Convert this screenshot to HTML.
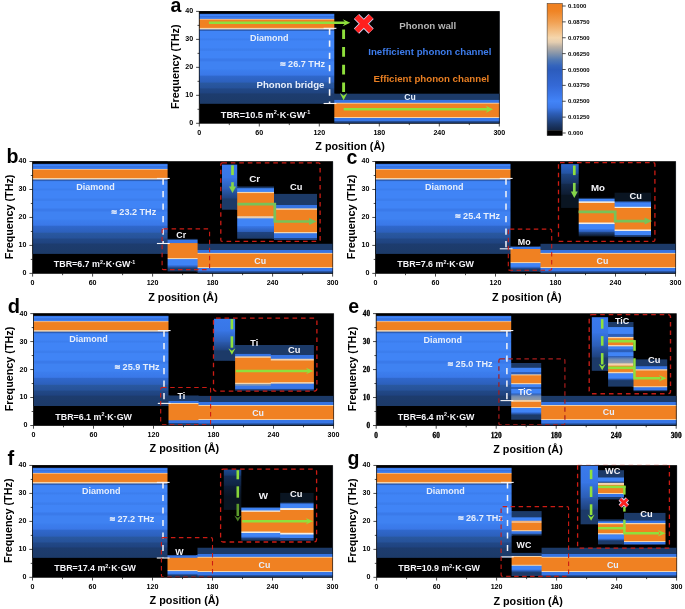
<!DOCTYPE html>
<html><head><meta charset="utf-8"><title>Phonon transport figure</title>
<style>
html,body{margin:0;padding:0;background:#fff;}
body{width:685px;height:609px;overflow:hidden;font-family:"Liberation Sans",sans-serif;}
svg{display:block;will-change:transform;}
text{white-space:pre;}
</style></head><body>
<svg width="685" height="609" viewBox="0 0 685 609">
<defs>
<linearGradient id="g0" gradientUnits="userSpaceOnUse" x1="0" y1="11.4" x2="0" y2="103.8"><stop offset="0.0000" stop-color="#000000"/><stop offset="0.0130" stop-color="#000000"/><stop offset="0.0238" stop-color="#0c1830"/><stop offset="0.0271" stop-color="#3470dc"/><stop offset="0.0379" stop-color="#4084f6"/><stop offset="0.0487" stop-color="#4084f6"/><stop offset="0.0584" stop-color="#3268d2"/><stop offset="0.0584" stop-color="#3268d2"/><stop offset="0.0682" stop-color="#3e80f2"/><stop offset="0.0758" stop-color="#3e80f2"/><stop offset="0.0866" stop-color="#f2b47c"/><stop offset="0.0866" stop-color="#f2b47c"/><stop offset="0.0974" stop-color="#f08122"/><stop offset="0.1732" stop-color="#f08122"/><stop offset="0.1840" stop-color="#f4d4ac"/><stop offset="0.1894" stop-color="#f4d4ac"/><stop offset="0.2002" stop-color="#2c5eb8"/><stop offset="0.2067" stop-color="#2c5eb8"/><stop offset="0.2175" stop-color="#4084f6"/><stop offset="0.2868" stop-color="#4084f6"/><stop offset="0.2976" stop-color="#3c7eee"/><stop offset="0.3084" stop-color="#3c7eee"/><stop offset="0.3193" stop-color="#4084f6"/><stop offset="0.3950" stop-color="#4084f6"/><stop offset="0.4058" stop-color="#3c7eee"/><stop offset="0.4221" stop-color="#3c7eee"/><stop offset="0.4329" stop-color="#4084f6"/><stop offset="0.5032" stop-color="#4084f6"/><stop offset="0.5141" stop-color="#3a7aea"/><stop offset="0.5357" stop-color="#3a7aea"/><stop offset="0.5465" stop-color="#3f82f2"/><stop offset="0.6223" stop-color="#3f82f2"/><stop offset="0.6331" stop-color="#3c7eee"/><stop offset="0.6894" stop-color="#3a78e8"/><stop offset="0.7002" stop-color="#3068cc"/><stop offset="0.7652" stop-color="#2c60bc"/><stop offset="0.7760" stop-color="#29589f"/><stop offset="0.8279" stop-color="#26529a"/><stop offset="0.8387" stop-color="#214886"/><stop offset="0.8820" stop-color="#1f4380"/><stop offset="0.8929" stop-color="#1d3c6e"/><stop offset="1.0000" stop-color="#1c3a68"/></linearGradient>
<linearGradient id="g1" gradientUnits="userSpaceOnUse" x1="0" y1="93.7" x2="0" y2="123.3"><stop offset="0.0000" stop-color="#1c3a68"/><stop offset="0.1943" stop-color="#1c3a68"/><stop offset="0.2179" stop-color="#3674e2"/><stop offset="0.2922" stop-color="#3674e2"/><stop offset="0.3159" stop-color="#f4d4ac"/><stop offset="0.3226" stop-color="#f4d4ac"/><stop offset="0.3463" stop-color="#f08122"/><stop offset="0.7753" stop-color="#f08122"/><stop offset="0.7990" stop-color="#f4d4ac"/><stop offset="0.8057" stop-color="#f4d4ac"/><stop offset="0.8294" stop-color="#3876e6"/><stop offset="0.9206" stop-color="#3876e6"/><stop offset="0.9443" stop-color="#1f4380"/><stop offset="1.0000" stop-color="#1f4380"/></linearGradient>
<linearGradient id="g2" gradientUnits="userSpaceOnUse" x1="0" y1="3.4" x2="0" y2="130.3"><stop offset="0.0000" stop-color="#f08020"/><stop offset="0.0605" stop-color="#f08424"/><stop offset="0.1456" stop-color="#f1a052"/><stop offset="0.2106" stop-color="#f3bc80"/><stop offset="0.2707" stop-color="#f5d6ac"/><stop offset="0.3057" stop-color="#e4cdb0"/><stop offset="0.3407" stop-color="#bcb2a6"/><stop offset="0.3958" stop-color="#8494aa"/><stop offset="0.4458" stop-color="#5078b4"/><stop offset="0.4909" stop-color="#3464bc"/><stop offset="0.5209" stop-color="#2c5cbc"/><stop offset="0.6460" stop-color="#3469d6"/><stop offset="0.7210" stop-color="#3c78ea"/><stop offset="0.7711" stop-color="#4284f8"/><stop offset="0.8211" stop-color="#3c78e8"/><stop offset="0.8712" stop-color="#2c5cb4"/><stop offset="0.9112" stop-color="#244c92"/><stop offset="0.9512" stop-color="#1c3a6c"/><stop offset="0.9862" stop-color="#162c52"/><stop offset="1.0000" stop-color="#142848"/></linearGradient>
<linearGradient id="g3" gradientUnits="userSpaceOnUse" x1="0" y1="161.5" x2="0" y2="253.9"><stop offset="0.0000" stop-color="#000000"/><stop offset="0.0130" stop-color="#000000"/><stop offset="0.0238" stop-color="#0c1830"/><stop offset="0.0271" stop-color="#3470dc"/><stop offset="0.0379" stop-color="#4084f6"/><stop offset="0.0487" stop-color="#4084f6"/><stop offset="0.0584" stop-color="#3268d2"/><stop offset="0.0584" stop-color="#3268d2"/><stop offset="0.0682" stop-color="#3e80f2"/><stop offset="0.0758" stop-color="#3e80f2"/><stop offset="0.0866" stop-color="#f2b47c"/><stop offset="0.0866" stop-color="#f2b47c"/><stop offset="0.0974" stop-color="#f08122"/><stop offset="0.1732" stop-color="#f08122"/><stop offset="0.1840" stop-color="#f4d4ac"/><stop offset="0.1894" stop-color="#f4d4ac"/><stop offset="0.2002" stop-color="#2c5eb8"/><stop offset="0.2067" stop-color="#2c5eb8"/><stop offset="0.2175" stop-color="#4084f6"/><stop offset="0.2868" stop-color="#4084f6"/><stop offset="0.2976" stop-color="#3c7eee"/><stop offset="0.3084" stop-color="#3c7eee"/><stop offset="0.3193" stop-color="#4084f6"/><stop offset="0.3950" stop-color="#4084f6"/><stop offset="0.4058" stop-color="#3c7eee"/><stop offset="0.4221" stop-color="#3c7eee"/><stop offset="0.4329" stop-color="#4084f6"/><stop offset="0.5032" stop-color="#4084f6"/><stop offset="0.5141" stop-color="#3a7aea"/><stop offset="0.5357" stop-color="#3a7aea"/><stop offset="0.5465" stop-color="#3f82f2"/><stop offset="0.6223" stop-color="#3f82f2"/><stop offset="0.6331" stop-color="#3c7eee"/><stop offset="0.6894" stop-color="#3a78e8"/><stop offset="0.7002" stop-color="#3068cc"/><stop offset="0.7652" stop-color="#2c60bc"/><stop offset="0.7760" stop-color="#29589f"/><stop offset="0.8279" stop-color="#26529a"/><stop offset="0.8387" stop-color="#214886"/><stop offset="0.8820" stop-color="#1f4380"/><stop offset="0.8929" stop-color="#1d3c6e"/><stop offset="1.0000" stop-color="#1c3a68"/></linearGradient>
<linearGradient id="g4" gradientUnits="userSpaceOnUse" x1="0" y1="238.9" x2="0" y2="271.4"><stop offset="0.0000" stop-color="#1c3a68"/><stop offset="0.0169" stop-color="#1c3a68"/><stop offset="0.0385" stop-color="#3876e6"/><stop offset="0.1215" stop-color="#3876e6"/><stop offset="0.1431" stop-color="#f08122"/><stop offset="0.5738" stop-color="#f08122"/><stop offset="0.5954" stop-color="#f4d4ac"/><stop offset="0.6138" stop-color="#f4d4ac"/><stop offset="0.6354" stop-color="#4084f6"/><stop offset="0.7923" stop-color="#4084f6"/><stop offset="0.8138" stop-color="#3876e6"/><stop offset="0.9000" stop-color="#1f4380"/><stop offset="0.9215" stop-color="#1c3a68"/><stop offset="1.0000" stop-color="#1c3a68"/></linearGradient>
<linearGradient id="g5" gradientUnits="userSpaceOnUse" x1="0" y1="243.8" x2="0" y2="273.4"><stop offset="0.0000" stop-color="#1c3a68"/><stop offset="0.1943" stop-color="#1c3a68"/><stop offset="0.2179" stop-color="#3674e2"/><stop offset="0.2922" stop-color="#3674e2"/><stop offset="0.3159" stop-color="#f4d4ac"/><stop offset="0.3226" stop-color="#f4d4ac"/><stop offset="0.3463" stop-color="#f08122"/><stop offset="0.7753" stop-color="#f08122"/><stop offset="0.7990" stop-color="#f4d4ac"/><stop offset="0.8057" stop-color="#f4d4ac"/><stop offset="0.8294" stop-color="#3876e6"/><stop offset="0.9206" stop-color="#3876e6"/><stop offset="0.9443" stop-color="#1f4380"/><stop offset="1.0000" stop-color="#1f4380"/></linearGradient>
<linearGradient id="g6" gradientUnits="userSpaceOnUse" x1="0" y1="164.6" x2="0" y2="209.7"><stop offset="0.0000" stop-color="#3a7aec"/><stop offset="0.2867" stop-color="#3876e6"/><stop offset="0.3133" stop-color="#3672de"/><stop offset="0.5367" stop-color="#2c5eb6"/><stop offset="0.5633" stop-color="#2a58aa"/><stop offset="0.7367" stop-color="#1f4380"/><stop offset="0.7633" stop-color="#1c3a68"/><stop offset="1.0000" stop-color="#1c3a68"/></linearGradient>
<linearGradient id="g7" gradientUnits="userSpaceOnUse" x1="0" y1="186.5" x2="0" y2="238.7"><stop offset="0.0000" stop-color="#1c3a68"/><stop offset="0.0278" stop-color="#1c3a68"/><stop offset="0.0412" stop-color="#4084f6"/><stop offset="0.0948" stop-color="#4084f6"/><stop offset="0.1082" stop-color="#f4d4ac"/><stop offset="0.1216" stop-color="#f4d4ac"/><stop offset="0.1351" stop-color="#f08122"/><stop offset="0.5642" stop-color="#f08122"/><stop offset="0.5776" stop-color="#e8cdb0"/><stop offset="0.6044" stop-color="#e8cdb0"/><stop offset="0.6178" stop-color="#4084f6"/><stop offset="0.7500" stop-color="#4084f6"/><stop offset="0.7634" stop-color="#3876e6"/><stop offset="0.8669" stop-color="#2c5eb8"/><stop offset="0.8803" stop-color="#1f4380"/><stop offset="1.0000" stop-color="#1c3a68"/></linearGradient>
<linearGradient id="g8" gradientUnits="userSpaceOnUse" x1="0" y1="193.9" x2="0" y2="240"><stop offset="0.0000" stop-color="#1c3a68"/><stop offset="0.2310" stop-color="#1c3a68"/><stop offset="0.2462" stop-color="#3674e2"/><stop offset="0.3069" stop-color="#3674e2"/><stop offset="0.3221" stop-color="#f4d4ac"/><stop offset="0.3351" stop-color="#f4d4ac"/><stop offset="0.3503" stop-color="#f08122"/><stop offset="0.8210" stop-color="#f08122"/><stop offset="0.8362" stop-color="#f4d4ac"/><stop offset="0.8471" stop-color="#f4d4ac"/><stop offset="0.8623" stop-color="#3876e6"/><stop offset="0.9534" stop-color="#3876e6"/><stop offset="0.9685" stop-color="#1f4380"/><stop offset="1.0000" stop-color="#1f4380"/></linearGradient>
<linearGradient id="g9" gradientUnits="userSpaceOnUse" x1="0" y1="161.5" x2="0" y2="253.9"><stop offset="0.0000" stop-color="#000000"/><stop offset="0.0130" stop-color="#000000"/><stop offset="0.0238" stop-color="#0c1830"/><stop offset="0.0271" stop-color="#3470dc"/><stop offset="0.0379" stop-color="#4084f6"/><stop offset="0.0487" stop-color="#4084f6"/><stop offset="0.0584" stop-color="#3268d2"/><stop offset="0.0584" stop-color="#3268d2"/><stop offset="0.0682" stop-color="#3e80f2"/><stop offset="0.0758" stop-color="#3e80f2"/><stop offset="0.0866" stop-color="#f2b47c"/><stop offset="0.0866" stop-color="#f2b47c"/><stop offset="0.0974" stop-color="#f08122"/><stop offset="0.1732" stop-color="#f08122"/><stop offset="0.1840" stop-color="#f4d4ac"/><stop offset="0.1894" stop-color="#f4d4ac"/><stop offset="0.2002" stop-color="#2c5eb8"/><stop offset="0.2067" stop-color="#2c5eb8"/><stop offset="0.2175" stop-color="#4084f6"/><stop offset="0.2868" stop-color="#4084f6"/><stop offset="0.2976" stop-color="#3c7eee"/><stop offset="0.3084" stop-color="#3c7eee"/><stop offset="0.3193" stop-color="#4084f6"/><stop offset="0.3950" stop-color="#4084f6"/><stop offset="0.4058" stop-color="#3c7eee"/><stop offset="0.4221" stop-color="#3c7eee"/><stop offset="0.4329" stop-color="#4084f6"/><stop offset="0.5032" stop-color="#4084f6"/><stop offset="0.5141" stop-color="#3a7aea"/><stop offset="0.5357" stop-color="#3a7aea"/><stop offset="0.5465" stop-color="#3f82f2"/><stop offset="0.6223" stop-color="#3f82f2"/><stop offset="0.6331" stop-color="#3c7eee"/><stop offset="0.6894" stop-color="#3a78e8"/><stop offset="0.7002" stop-color="#3068cc"/><stop offset="0.7652" stop-color="#2c60bc"/><stop offset="0.7760" stop-color="#29589f"/><stop offset="0.8279" stop-color="#26529a"/><stop offset="0.8387" stop-color="#214886"/><stop offset="0.8820" stop-color="#1f4380"/><stop offset="0.8929" stop-color="#1d3c6e"/><stop offset="1.0000" stop-color="#1c3a68"/></linearGradient>
<linearGradient id="g10" gradientUnits="userSpaceOnUse" x1="0" y1="246.2" x2="0" y2="271.7"><stop offset="0.0000" stop-color="#1c3a68"/><stop offset="0.0176" stop-color="#1c3a68"/><stop offset="0.0451" stop-color="#3876e6"/><stop offset="0.1000" stop-color="#3876e6"/><stop offset="0.1275" stop-color="#f08122"/><stop offset="0.6137" stop-color="#f08122"/><stop offset="0.6412" stop-color="#f4d4ac"/><stop offset="0.6529" stop-color="#f4d4ac"/><stop offset="0.6804" stop-color="#4084f6"/><stop offset="0.7824" stop-color="#4084f6"/><stop offset="0.8098" stop-color="#3876e6"/><stop offset="0.8804" stop-color="#1f4380"/><stop offset="0.9078" stop-color="#1c3a68"/><stop offset="1.0000" stop-color="#1c3a68"/></linearGradient>
<linearGradient id="g11" gradientUnits="userSpaceOnUse" x1="0" y1="243.8" x2="0" y2="273.4"><stop offset="0.0000" stop-color="#1c3a68"/><stop offset="0.1943" stop-color="#1c3a68"/><stop offset="0.2179" stop-color="#3674e2"/><stop offset="0.2922" stop-color="#3674e2"/><stop offset="0.3159" stop-color="#f4d4ac"/><stop offset="0.3226" stop-color="#f4d4ac"/><stop offset="0.3463" stop-color="#f08122"/><stop offset="0.7753" stop-color="#f08122"/><stop offset="0.7990" stop-color="#f4d4ac"/><stop offset="0.8057" stop-color="#f4d4ac"/><stop offset="0.8294" stop-color="#3876e6"/><stop offset="0.9206" stop-color="#3876e6"/><stop offset="0.9443" stop-color="#1f4380"/><stop offset="1.0000" stop-color="#1f4380"/></linearGradient>
<linearGradient id="g12" gradientUnits="userSpaceOnUse" x1="0" y1="164.1" x2="0" y2="207.9"><stop offset="0.0000" stop-color="#2c64c8"/><stop offset="0.2063" stop-color="#2454a4"/><stop offset="0.2337" stop-color="#1f4684"/><stop offset="0.4363" stop-color="#183462"/><stop offset="0.4637" stop-color="#142a4c"/><stop offset="0.6863" stop-color="#0e1c32"/><stop offset="0.7137" stop-color="#0a1522"/><stop offset="1.0000" stop-color="#0a1522"/></linearGradient>
<linearGradient id="g13" gradientUnits="userSpaceOnUse" x1="0" y1="197.9" x2="0" y2="236.5"><stop offset="0.0000" stop-color="#1c3a68"/><stop offset="0.0220" stop-color="#1c3a68"/><stop offset="0.0402" stop-color="#4084f6"/><stop offset="0.0816" stop-color="#4084f6"/><stop offset="0.0997" stop-color="#f4ece0"/><stop offset="0.1179" stop-color="#f4ece0"/><stop offset="0.1360" stop-color="#f08122"/><stop offset="0.6282" stop-color="#f08122"/><stop offset="0.6464" stop-color="#f4ece0"/><stop offset="0.6723" stop-color="#f4ece0"/><stop offset="0.6904" stop-color="#4084f6"/><stop offset="0.7966" stop-color="#4084f6"/><stop offset="0.8148" stop-color="#3876e6"/><stop offset="0.8769" stop-color="#2c5eb8"/><stop offset="0.8951" stop-color="#1f4380"/><stop offset="1.0000" stop-color="#0a1522"/></linearGradient>
<linearGradient id="g14" gradientUnits="userSpaceOnUse" x1="0" y1="192.7" x2="0" y2="236.8"><stop offset="0.0000" stop-color="#0a1522"/><stop offset="0.1803" stop-color="#0a1522"/><stop offset="0.1961" stop-color="#1c3a68"/><stop offset="0.2256" stop-color="#3876e6"/><stop offset="0.2415" stop-color="#4084f6"/><stop offset="0.3095" stop-color="#4084f6"/><stop offset="0.3254" stop-color="#f4ece0"/><stop offset="0.3413" stop-color="#f4ece0"/><stop offset="0.3571" stop-color="#f08122"/><stop offset="0.8265" stop-color="#f08122"/><stop offset="0.8424" stop-color="#f4ece0"/><stop offset="0.8583" stop-color="#f4ece0"/><stop offset="0.8741" stop-color="#4084f6"/><stop offset="0.9512" stop-color="#4084f6"/><stop offset="0.9671" stop-color="#1f4380"/><stop offset="1.0000" stop-color="#1f4380"/></linearGradient>
<linearGradient id="g15" gradientUnits="userSpaceOnUse" x1="0" y1="313.6" x2="0" y2="406"><stop offset="0.0000" stop-color="#000000"/><stop offset="0.0130" stop-color="#000000"/><stop offset="0.0238" stop-color="#0c1830"/><stop offset="0.0271" stop-color="#3470dc"/><stop offset="0.0379" stop-color="#4084f6"/><stop offset="0.0487" stop-color="#4084f6"/><stop offset="0.0584" stop-color="#3268d2"/><stop offset="0.0584" stop-color="#3268d2"/><stop offset="0.0682" stop-color="#3e80f2"/><stop offset="0.0758" stop-color="#3e80f2"/><stop offset="0.0866" stop-color="#f2b47c"/><stop offset="0.0866" stop-color="#f2b47c"/><stop offset="0.0974" stop-color="#f08122"/><stop offset="0.1732" stop-color="#f08122"/><stop offset="0.1840" stop-color="#f4d4ac"/><stop offset="0.1894" stop-color="#f4d4ac"/><stop offset="0.2002" stop-color="#2c5eb8"/><stop offset="0.2067" stop-color="#2c5eb8"/><stop offset="0.2175" stop-color="#4084f6"/><stop offset="0.2868" stop-color="#4084f6"/><stop offset="0.2976" stop-color="#3c7eee"/><stop offset="0.3084" stop-color="#3c7eee"/><stop offset="0.3193" stop-color="#4084f6"/><stop offset="0.3950" stop-color="#4084f6"/><stop offset="0.4058" stop-color="#3c7eee"/><stop offset="0.4221" stop-color="#3c7eee"/><stop offset="0.4329" stop-color="#4084f6"/><stop offset="0.5032" stop-color="#4084f6"/><stop offset="0.5141" stop-color="#3a7aea"/><stop offset="0.5357" stop-color="#3a7aea"/><stop offset="0.5465" stop-color="#3f82f2"/><stop offset="0.6223" stop-color="#3f82f2"/><stop offset="0.6331" stop-color="#3c7eee"/><stop offset="0.6894" stop-color="#3a78e8"/><stop offset="0.7002" stop-color="#3068cc"/><stop offset="0.7652" stop-color="#2c60bc"/><stop offset="0.7760" stop-color="#29589f"/><stop offset="0.8279" stop-color="#26529a"/><stop offset="0.8387" stop-color="#214886"/><stop offset="0.8820" stop-color="#1f4380"/><stop offset="0.8929" stop-color="#1d3c6e"/><stop offset="1.0000" stop-color="#1c3a68"/></linearGradient>
<linearGradient id="g16" gradientUnits="userSpaceOnUse" x1="0" y1="395.5" x2="0" y2="425"><stop offset="0.0000" stop-color="#1c3a68"/><stop offset="0.1780" stop-color="#1c3a68"/><stop offset="0.2017" stop-color="#3674e2"/><stop offset="0.2458" stop-color="#3674e2"/><stop offset="0.2695" stop-color="#f4d4ac"/><stop offset="0.2763" stop-color="#f4d4ac"/><stop offset="0.3000" stop-color="#f08122"/><stop offset="0.8288" stop-color="#f08122"/><stop offset="0.8525" stop-color="#3876e6"/><stop offset="0.9203" stop-color="#3876e6"/><stop offset="0.9441" stop-color="#1f4380"/><stop offset="1.0000" stop-color="#1f4380"/></linearGradient>
<linearGradient id="g17" gradientUnits="userSpaceOnUse" x1="0" y1="395.9" x2="0" y2="425.5"><stop offset="0.0000" stop-color="#1c3a68"/><stop offset="0.1943" stop-color="#1c3a68"/><stop offset="0.2179" stop-color="#3674e2"/><stop offset="0.2922" stop-color="#3674e2"/><stop offset="0.3159" stop-color="#f4d4ac"/><stop offset="0.3226" stop-color="#f4d4ac"/><stop offset="0.3463" stop-color="#f08122"/><stop offset="0.7753" stop-color="#f08122"/><stop offset="0.7990" stop-color="#f4d4ac"/><stop offset="0.8057" stop-color="#f4d4ac"/><stop offset="0.8294" stop-color="#3876e6"/><stop offset="0.9206" stop-color="#3876e6"/><stop offset="0.9443" stop-color="#1f4380"/><stop offset="1.0000" stop-color="#1f4380"/></linearGradient>
<linearGradient id="g18" gradientUnits="userSpaceOnUse" x1="0" y1="318.8" x2="0" y2="360.8"><stop offset="0.0000" stop-color="#3a7aec"/><stop offset="0.2857" stop-color="#3876e6"/><stop offset="0.3143" stop-color="#3672de"/><stop offset="0.5357" stop-color="#2c5eb6"/><stop offset="0.5643" stop-color="#2a58aa"/><stop offset="0.7357" stop-color="#1f4380"/><stop offset="0.7643" stop-color="#1c3a68"/><stop offset="1.0000" stop-color="#1c3a68"/></linearGradient>
<linearGradient id="g19" gradientUnits="userSpaceOnUse" x1="0" y1="345" x2="0" y2="390.6"><stop offset="0.0000" stop-color="#1c3a68"/><stop offset="0.1853" stop-color="#1c3a68"/><stop offset="0.2007" stop-color="#3674e2"/><stop offset="0.2423" stop-color="#3674e2"/><stop offset="0.2577" stop-color="#f4d4ac"/><stop offset="0.2708" stop-color="#f4d4ac"/><stop offset="0.2862" stop-color="#f08122"/><stop offset="0.8191" stop-color="#f08122"/><stop offset="0.8344" stop-color="#f4d4ac"/><stop offset="0.8454" stop-color="#f4d4ac"/><stop offset="0.8607" stop-color="#7f96b4"/><stop offset="0.8827" stop-color="#7f96b4"/><stop offset="0.8980" stop-color="#3876e6"/><stop offset="0.9529" stop-color="#3876e6"/><stop offset="0.9682" stop-color="#1f4380"/><stop offset="1.0000" stop-color="#1f4380"/></linearGradient>
<linearGradient id="g20" gradientUnits="userSpaceOnUse" x1="0" y1="345" x2="0" y2="390.6"><stop offset="0.0000" stop-color="#1c3a68"/><stop offset="0.2116" stop-color="#1c3a68"/><stop offset="0.2270" stop-color="#3674e2"/><stop offset="0.2928" stop-color="#3674e2"/><stop offset="0.3081" stop-color="#f4d4ac"/><stop offset="0.3322" stop-color="#f4d4ac"/><stop offset="0.3476" stop-color="#f08122"/><stop offset="0.8081" stop-color="#f08122"/><stop offset="0.8235" stop-color="#f4d4ac"/><stop offset="0.8388" stop-color="#f4d4ac"/><stop offset="0.8542" stop-color="#3876e6"/><stop offset="0.9529" stop-color="#3876e6"/><stop offset="0.9682" stop-color="#1f4380"/><stop offset="1.0000" stop-color="#1f4380"/></linearGradient>
<linearGradient id="g21" gradientUnits="userSpaceOnUse" x1="0" y1="313.6" x2="0" y2="406"><stop offset="0.0000" stop-color="#000000"/><stop offset="0.0130" stop-color="#000000"/><stop offset="0.0238" stop-color="#0c1830"/><stop offset="0.0271" stop-color="#3470dc"/><stop offset="0.0379" stop-color="#4084f6"/><stop offset="0.0487" stop-color="#4084f6"/><stop offset="0.0584" stop-color="#3268d2"/><stop offset="0.0584" stop-color="#3268d2"/><stop offset="0.0682" stop-color="#3e80f2"/><stop offset="0.0758" stop-color="#3e80f2"/><stop offset="0.0866" stop-color="#f2b47c"/><stop offset="0.0866" stop-color="#f2b47c"/><stop offset="0.0974" stop-color="#f08122"/><stop offset="0.1732" stop-color="#f08122"/><stop offset="0.1840" stop-color="#f4d4ac"/><stop offset="0.1894" stop-color="#f4d4ac"/><stop offset="0.2002" stop-color="#2c5eb8"/><stop offset="0.2067" stop-color="#2c5eb8"/><stop offset="0.2175" stop-color="#4084f6"/><stop offset="0.2868" stop-color="#4084f6"/><stop offset="0.2976" stop-color="#3c7eee"/><stop offset="0.3084" stop-color="#3c7eee"/><stop offset="0.3193" stop-color="#4084f6"/><stop offset="0.3950" stop-color="#4084f6"/><stop offset="0.4058" stop-color="#3c7eee"/><stop offset="0.4221" stop-color="#3c7eee"/><stop offset="0.4329" stop-color="#4084f6"/><stop offset="0.5032" stop-color="#4084f6"/><stop offset="0.5141" stop-color="#3a7aea"/><stop offset="0.5357" stop-color="#3a7aea"/><stop offset="0.5465" stop-color="#3f82f2"/><stop offset="0.6223" stop-color="#3f82f2"/><stop offset="0.6331" stop-color="#3c7eee"/><stop offset="0.6894" stop-color="#3a78e8"/><stop offset="0.7002" stop-color="#3068cc"/><stop offset="0.7652" stop-color="#2c60bc"/><stop offset="0.7760" stop-color="#29589f"/><stop offset="0.8279" stop-color="#26529a"/><stop offset="0.8387" stop-color="#214886"/><stop offset="0.8820" stop-color="#1f4380"/><stop offset="0.8929" stop-color="#1d3c6e"/><stop offset="1.0000" stop-color="#1c3a68"/></linearGradient>
<linearGradient id="g22" gradientUnits="userSpaceOnUse" x1="0" y1="363" x2="0" y2="419.7"><stop offset="0.0000" stop-color="#1c3a68"/><stop offset="0.0767" stop-color="#1c3a68"/><stop offset="0.0891" stop-color="#4084f6"/><stop offset="0.1561" stop-color="#4084f6"/><stop offset="0.1684" stop-color="#2c5eb8"/><stop offset="0.1949" stop-color="#2c5eb8"/><stop offset="0.2072" stop-color="#f4d4ac"/><stop offset="0.2125" stop-color="#f4d4ac"/><stop offset="0.2249" stop-color="#f08122"/><stop offset="0.3501" stop-color="#f08122"/><stop offset="0.3624" stop-color="#f4d4ac"/><stop offset="0.3695" stop-color="#f4d4ac"/><stop offset="0.3818" stop-color="#4084f6"/><stop offset="0.4171" stop-color="#4084f6"/><stop offset="0.4295" stop-color="#2c5eb8"/><stop offset="0.4541" stop-color="#2c5eb8"/><stop offset="0.4665" stop-color="#4084f6"/><stop offset="0.5317" stop-color="#4084f6"/><stop offset="0.5441" stop-color="#2c5eb8"/><stop offset="0.5847" stop-color="#6c88b4"/><stop offset="0.5970" stop-color="#7890b0"/><stop offset="0.6499" stop-color="#929ca8"/><stop offset="0.6623" stop-color="#f4d4ac"/><stop offset="0.6764" stop-color="#f4d4ac"/><stop offset="0.6887" stop-color="#f08122"/><stop offset="0.7681" stop-color="#f08122"/><stop offset="0.7804" stop-color="#f4d4ac"/><stop offset="0.7857" stop-color="#f4d4ac"/><stop offset="0.7981" stop-color="#4084f6"/><stop offset="0.8580" stop-color="#4084f6"/><stop offset="0.8704" stop-color="#3876e6"/><stop offset="0.9109" stop-color="#1f4380"/><stop offset="0.9233" stop-color="#1c3a68"/><stop offset="1.0000" stop-color="#1c3a68"/></linearGradient>
<linearGradient id="g23" gradientUnits="userSpaceOnUse" x1="0" y1="395.9" x2="0" y2="425.5"><stop offset="0.0000" stop-color="#1c3a68"/><stop offset="0.1943" stop-color="#1c3a68"/><stop offset="0.2179" stop-color="#3674e2"/><stop offset="0.2922" stop-color="#3674e2"/><stop offset="0.3159" stop-color="#f4d4ac"/><stop offset="0.3226" stop-color="#f4d4ac"/><stop offset="0.3463" stop-color="#f08122"/><stop offset="0.7753" stop-color="#f08122"/><stop offset="0.7990" stop-color="#f4d4ac"/><stop offset="0.8057" stop-color="#f4d4ac"/><stop offset="0.8294" stop-color="#3876e6"/><stop offset="0.9206" stop-color="#3876e6"/><stop offset="0.9443" stop-color="#1f4380"/><stop offset="1.0000" stop-color="#1f4380"/></linearGradient>
<linearGradient id="g24" gradientUnits="userSpaceOnUse" x1="0" y1="317.2" x2="0" y2="370.8"><stop offset="0.0000" stop-color="#3a7aec"/><stop offset="0.2888" stop-color="#3876e6"/><stop offset="0.3112" stop-color="#3672de"/><stop offset="0.5388" stop-color="#2c5eb6"/><stop offset="0.5612" stop-color="#2a58aa"/><stop offset="0.7388" stop-color="#1f4380"/><stop offset="0.7612" stop-color="#1c3a68"/><stop offset="1.0000" stop-color="#1c3a68"/></linearGradient>
<linearGradient id="g25" gradientUnits="userSpaceOnUse" x1="0" y1="322" x2="0" y2="386.6"><stop offset="0.0000" stop-color="#1c3a68"/><stop offset="0.0751" stop-color="#1c3a68"/><stop offset="0.0859" stop-color="#4084f6"/><stop offset="0.1772" stop-color="#4084f6"/><stop offset="0.1881" stop-color="#2c5eb8"/><stop offset="0.2237" stop-color="#2c5eb8"/><stop offset="0.2345" stop-color="#f4d4ac"/><stop offset="0.2469" stop-color="#f4d4ac"/><stop offset="0.2577" stop-color="#f08122"/><stop offset="0.3491" stop-color="#f08122"/><stop offset="0.3599" stop-color="#f4d4ac"/><stop offset="0.3723" stop-color="#f4d4ac"/><stop offset="0.3831" stop-color="#4084f6"/><stop offset="0.4187" stop-color="#4084f6"/><stop offset="0.4296" stop-color="#2c5eb8"/><stop offset="0.4636" stop-color="#2c5eb8"/><stop offset="0.4745" stop-color="#4084f6"/><stop offset="0.5209" stop-color="#4084f6"/><stop offset="0.5317" stop-color="#2c5eb8"/><stop offset="0.5751" stop-color="#6c88b4"/><stop offset="0.5859" stop-color="#7890b0"/><stop offset="0.6354" stop-color="#929ca8"/><stop offset="0.6463" stop-color="#f4d4ac"/><stop offset="0.6695" stop-color="#f4d4ac"/><stop offset="0.6803" stop-color="#f08122"/><stop offset="0.7655" stop-color="#f08122"/><stop offset="0.7763" stop-color="#f4d4ac"/><stop offset="0.7887" stop-color="#f4d4ac"/><stop offset="0.7995" stop-color="#4084f6"/><stop offset="0.8615" stop-color="#4084f6"/><stop offset="0.8723" stop-color="#3876e6"/><stop offset="0.8986" stop-color="#1f4380"/><stop offset="0.9094" stop-color="#1c3a68"/><stop offset="1.0000" stop-color="#1c3a68"/></linearGradient>
<linearGradient id="g26" gradientUnits="userSpaceOnUse" x1="0" y1="359.4" x2="0" y2="391.2"><stop offset="0.0000" stop-color="#1c3a68"/><stop offset="0.2060" stop-color="#1c3a68"/><stop offset="0.2280" stop-color="#3674e2"/><stop offset="0.3003" stop-color="#3674e2"/><stop offset="0.3223" stop-color="#f4d4ac"/><stop offset="0.3381" stop-color="#f4d4ac"/><stop offset="0.3601" stop-color="#f08122"/><stop offset="0.8349" stop-color="#f08122"/><stop offset="0.8569" stop-color="#f4d4ac"/><stop offset="0.8664" stop-color="#f4d4ac"/><stop offset="0.8884" stop-color="#3876e6"/><stop offset="0.9513" stop-color="#3876e6"/><stop offset="0.9733" stop-color="#1f4380"/><stop offset="1.0000" stop-color="#1f4380"/></linearGradient>
<linearGradient id="g27" gradientUnits="userSpaceOnUse" x1="0" y1="465.45" x2="0" y2="557.85"><stop offset="0.0000" stop-color="#000000"/><stop offset="0.0130" stop-color="#000000"/><stop offset="0.0238" stop-color="#0c1830"/><stop offset="0.0271" stop-color="#3470dc"/><stop offset="0.0379" stop-color="#4084f6"/><stop offset="0.0487" stop-color="#4084f6"/><stop offset="0.0584" stop-color="#3268d2"/><stop offset="0.0584" stop-color="#3268d2"/><stop offset="0.0682" stop-color="#3e80f2"/><stop offset="0.0758" stop-color="#3e80f2"/><stop offset="0.0866" stop-color="#f2b47c"/><stop offset="0.0866" stop-color="#f2b47c"/><stop offset="0.0974" stop-color="#f08122"/><stop offset="0.1732" stop-color="#f08122"/><stop offset="0.1840" stop-color="#f4d4ac"/><stop offset="0.1894" stop-color="#f4d4ac"/><stop offset="0.2002" stop-color="#2c5eb8"/><stop offset="0.2067" stop-color="#2c5eb8"/><stop offset="0.2175" stop-color="#4084f6"/><stop offset="0.2868" stop-color="#4084f6"/><stop offset="0.2976" stop-color="#3c7eee"/><stop offset="0.3084" stop-color="#3c7eee"/><stop offset="0.3193" stop-color="#4084f6"/><stop offset="0.3950" stop-color="#4084f6"/><stop offset="0.4058" stop-color="#3c7eee"/><stop offset="0.4221" stop-color="#3c7eee"/><stop offset="0.4329" stop-color="#4084f6"/><stop offset="0.5032" stop-color="#4084f6"/><stop offset="0.5141" stop-color="#3a7aea"/><stop offset="0.5357" stop-color="#3a7aea"/><stop offset="0.5465" stop-color="#3f82f2"/><stop offset="0.6223" stop-color="#3f82f2"/><stop offset="0.6331" stop-color="#3c7eee"/><stop offset="0.6894" stop-color="#3a78e8"/><stop offset="0.7002" stop-color="#3068cc"/><stop offset="0.7652" stop-color="#2c60bc"/><stop offset="0.7760" stop-color="#29589f"/><stop offset="0.8279" stop-color="#26529a"/><stop offset="0.8387" stop-color="#214886"/><stop offset="0.8820" stop-color="#1f4380"/><stop offset="0.8929" stop-color="#1d3c6e"/><stop offset="1.0000" stop-color="#1c3a68"/></linearGradient>
<linearGradient id="g28" gradientUnits="userSpaceOnUse" x1="0" y1="555.3" x2="0" y2="577.2"><stop offset="0.0000" stop-color="#3876e6"/><stop offset="0.0936" stop-color="#3876e6"/><stop offset="0.1256" stop-color="#f08122"/><stop offset="0.6598" stop-color="#f08122"/><stop offset="0.6918" stop-color="#f4d4ac"/><stop offset="0.7100" stop-color="#f4d4ac"/><stop offset="0.7420" stop-color="#4084f6"/><stop offset="0.8151" stop-color="#4084f6"/><stop offset="0.8470" stop-color="#3876e6"/><stop offset="0.8973" stop-color="#1f4380"/><stop offset="0.9292" stop-color="#1c3a68"/><stop offset="1.0000" stop-color="#1c3a68"/></linearGradient>
<linearGradient id="g29" gradientUnits="userSpaceOnUse" x1="0" y1="547.75" x2="0" y2="577.35"><stop offset="0.0000" stop-color="#1c3a68"/><stop offset="0.1943" stop-color="#1c3a68"/><stop offset="0.2179" stop-color="#3674e2"/><stop offset="0.2922" stop-color="#3674e2"/><stop offset="0.3159" stop-color="#f4d4ac"/><stop offset="0.3226" stop-color="#f4d4ac"/><stop offset="0.3463" stop-color="#f08122"/><stop offset="0.7753" stop-color="#f08122"/><stop offset="0.7990" stop-color="#f4d4ac"/><stop offset="0.8057" stop-color="#f4d4ac"/><stop offset="0.8294" stop-color="#3876e6"/><stop offset="0.9206" stop-color="#3876e6"/><stop offset="0.9443" stop-color="#1f4380"/><stop offset="1.0000" stop-color="#1f4380"/></linearGradient>
<linearGradient id="g30" gradientUnits="userSpaceOnUse" x1="0" y1="469.6" x2="0" y2="509.9"><stop offset="0.0000" stop-color="#1e4a92"/><stop offset="0.1351" stop-color="#183c74"/><stop offset="0.1649" stop-color="#142e58"/><stop offset="0.3851" stop-color="#102444"/><stop offset="0.4149" stop-color="#0e1e38"/><stop offset="0.6351" stop-color="#0a1626"/><stop offset="0.6649" stop-color="#0a1522"/><stop offset="1.0000" stop-color="#0a1522"/></linearGradient>
<linearGradient id="g31" gradientUnits="userSpaceOnUse" x1="0" y1="507" x2="0" y2="540.6"><stop offset="0.0000" stop-color="#1c3a68"/><stop offset="0.0253" stop-color="#1c3a68"/><stop offset="0.0461" stop-color="#4084f6"/><stop offset="0.0937" stop-color="#4084f6"/><stop offset="0.1146" stop-color="#f4ece0"/><stop offset="0.1295" stop-color="#f4ece0"/><stop offset="0.1503" stop-color="#f08122"/><stop offset="0.7187" stop-color="#f08122"/><stop offset="0.7396" stop-color="#f4ece0"/><stop offset="0.7604" stop-color="#f4ece0"/><stop offset="0.7812" stop-color="#4084f6"/><stop offset="0.8676" stop-color="#4084f6"/><stop offset="0.8884" stop-color="#3876e6"/><stop offset="0.9360" stop-color="#1f4380"/><stop offset="0.9568" stop-color="#1c3a68"/><stop offset="1.0000" stop-color="#1c3a68"/></linearGradient>
<linearGradient id="g32" gradientUnits="userSpaceOnUse" x1="0" y1="492.9" x2="0" y2="540.6"><stop offset="0.0000" stop-color="#0a1522"/><stop offset="0.1939" stop-color="#0a1522"/><stop offset="0.2086" stop-color="#1c3a68"/><stop offset="0.2317" stop-color="#3876e6"/><stop offset="0.2463" stop-color="#4084f6"/><stop offset="0.3134" stop-color="#4084f6"/><stop offset="0.3281" stop-color="#f4ece0"/><stop offset="0.3491" stop-color="#f4ece0"/><stop offset="0.3637" stop-color="#f08122"/><stop offset="0.8270" stop-color="#f08122"/><stop offset="0.8417" stop-color="#f4ece0"/><stop offset="0.8648" stop-color="#f4ece0"/><stop offset="0.8795" stop-color="#4084f6"/><stop offset="0.9382" stop-color="#4084f6"/><stop offset="0.9528" stop-color="#1f4380"/><stop offset="1.0000" stop-color="#1f4380"/></linearGradient>
<linearGradient id="g33" gradientUnits="userSpaceOnUse" x1="0" y1="465.45" x2="0" y2="557.85"><stop offset="0.0000" stop-color="#000000"/><stop offset="0.0130" stop-color="#000000"/><stop offset="0.0238" stop-color="#0c1830"/><stop offset="0.0271" stop-color="#3470dc"/><stop offset="0.0379" stop-color="#4084f6"/><stop offset="0.0487" stop-color="#4084f6"/><stop offset="0.0584" stop-color="#3268d2"/><stop offset="0.0584" stop-color="#3268d2"/><stop offset="0.0682" stop-color="#3e80f2"/><stop offset="0.0758" stop-color="#3e80f2"/><stop offset="0.0866" stop-color="#f2b47c"/><stop offset="0.0866" stop-color="#f2b47c"/><stop offset="0.0974" stop-color="#f08122"/><stop offset="0.1732" stop-color="#f08122"/><stop offset="0.1840" stop-color="#f4d4ac"/><stop offset="0.1894" stop-color="#f4d4ac"/><stop offset="0.2002" stop-color="#2c5eb8"/><stop offset="0.2067" stop-color="#2c5eb8"/><stop offset="0.2175" stop-color="#4084f6"/><stop offset="0.2868" stop-color="#4084f6"/><stop offset="0.2976" stop-color="#3c7eee"/><stop offset="0.3084" stop-color="#3c7eee"/><stop offset="0.3193" stop-color="#4084f6"/><stop offset="0.3950" stop-color="#4084f6"/><stop offset="0.4058" stop-color="#3c7eee"/><stop offset="0.4221" stop-color="#3c7eee"/><stop offset="0.4329" stop-color="#4084f6"/><stop offset="0.5032" stop-color="#4084f6"/><stop offset="0.5141" stop-color="#3a7aea"/><stop offset="0.5357" stop-color="#3a7aea"/><stop offset="0.5465" stop-color="#3f82f2"/><stop offset="0.6223" stop-color="#3f82f2"/><stop offset="0.6331" stop-color="#3c7eee"/><stop offset="0.6894" stop-color="#3a78e8"/><stop offset="0.7002" stop-color="#3068cc"/><stop offset="0.7652" stop-color="#2c60bc"/><stop offset="0.7760" stop-color="#29589f"/><stop offset="0.8279" stop-color="#26529a"/><stop offset="0.8387" stop-color="#214886"/><stop offset="0.8820" stop-color="#1f4380"/><stop offset="0.8929" stop-color="#1d3c6e"/><stop offset="1.0000" stop-color="#1c3a68"/></linearGradient>
<linearGradient id="g34" gradientUnits="userSpaceOnUse" x1="0" y1="511.1" x2="0" y2="535.5"><stop offset="0.0000" stop-color="#1c3a68"/><stop offset="0.2439" stop-color="#1c3a68"/><stop offset="0.2725" stop-color="#4084f6"/><stop offset="0.3791" stop-color="#4084f6"/><stop offset="0.4078" stop-color="#f2b47c"/><stop offset="0.4693" stop-color="#f2b47c"/><stop offset="0.4980" stop-color="#f08122"/><stop offset="0.7725" stop-color="#f08122"/><stop offset="0.8012" stop-color="#f4d4ac"/><stop offset="0.8135" stop-color="#f4d4ac"/><stop offset="0.8422" stop-color="#3876e6"/><stop offset="0.9119" stop-color="#3876e6"/><stop offset="0.9406" stop-color="#1c3a68"/><stop offset="1.0000" stop-color="#1c3a68"/></linearGradient>
<linearGradient id="g35" gradientUnits="userSpaceOnUse" x1="0" y1="552.9" x2="0" y2="576"><stop offset="0.0000" stop-color="#1c3a68"/><stop offset="0.1147" stop-color="#1c3a68"/><stop offset="0.1450" stop-color="#f4d4ac"/><stop offset="0.1623" stop-color="#f4d4ac"/><stop offset="0.1926" stop-color="#f08122"/><stop offset="0.4957" stop-color="#f08122"/><stop offset="0.5260" stop-color="#f4d4ac"/><stop offset="0.5390" stop-color="#f4d4ac"/><stop offset="0.5693" stop-color="#4084f6"/><stop offset="0.7035" stop-color="#4084f6"/><stop offset="0.7338" stop-color="#3876e6"/><stop offset="0.8290" stop-color="#1f4380"/><stop offset="0.8593" stop-color="#1c3a68"/><stop offset="1.0000" stop-color="#1c3a68"/></linearGradient>
<linearGradient id="g36" gradientUnits="userSpaceOnUse" x1="0" y1="547.75" x2="0" y2="577.35"><stop offset="0.0000" stop-color="#1c3a68"/><stop offset="0.1943" stop-color="#1c3a68"/><stop offset="0.2179" stop-color="#3674e2"/><stop offset="0.2922" stop-color="#3674e2"/><stop offset="0.3159" stop-color="#f4d4ac"/><stop offset="0.3226" stop-color="#f4d4ac"/><stop offset="0.3463" stop-color="#f08122"/><stop offset="0.7753" stop-color="#f08122"/><stop offset="0.7990" stop-color="#f4d4ac"/><stop offset="0.8057" stop-color="#f4d4ac"/><stop offset="0.8294" stop-color="#3876e6"/><stop offset="0.9206" stop-color="#3876e6"/><stop offset="0.9443" stop-color="#1f4380"/><stop offset="1.0000" stop-color="#1f4380"/></linearGradient>
<linearGradient id="g37" gradientUnits="userSpaceOnUse" x1="0" y1="465.8" x2="0" y2="524.3"><stop offset="0.0000" stop-color="#3a7aec"/><stop offset="0.2897" stop-color="#3876e6"/><stop offset="0.3103" stop-color="#3672de"/><stop offset="0.5397" stop-color="#2c5eb6"/><stop offset="0.5603" stop-color="#2a58aa"/><stop offset="0.7397" stop-color="#1f4380"/><stop offset="0.7603" stop-color="#1c3a68"/><stop offset="1.0000" stop-color="#1c3a68"/></linearGradient>
<linearGradient id="g38" gradientUnits="userSpaceOnUse" x1="0" y1="470.2" x2="0" y2="499.4"><stop offset="0.0000" stop-color="#1c3a68"/><stop offset="0.2380" stop-color="#1c3a68"/><stop offset="0.2620" stop-color="#4084f6"/><stop offset="0.3784" stop-color="#4084f6"/><stop offset="0.4024" stop-color="#1f4380"/><stop offset="0.4161" stop-color="#1f4380"/><stop offset="0.4401" stop-color="#f4d4ac"/><stop offset="0.4880" stop-color="#f4d4ac"/><stop offset="0.5120" stop-color="#f08122"/><stop offset="0.7654" stop-color="#f08122"/><stop offset="0.7894" stop-color="#f4d4ac"/><stop offset="0.8031" stop-color="#f4d4ac"/><stop offset="0.8271" stop-color="#3876e6"/><stop offset="0.9058" stop-color="#3876e6"/><stop offset="0.9298" stop-color="#1c3a68"/><stop offset="1.0000" stop-color="#1c3a68"/></linearGradient>
<linearGradient id="g39" gradientUnits="userSpaceOnUse" x1="0" y1="519.4" x2="0" y2="544.4"><stop offset="0.0000" stop-color="#1c3a68"/><stop offset="0.0660" stop-color="#1c3a68"/><stop offset="0.0940" stop-color="#4084f6"/><stop offset="0.1300" stop-color="#4084f6"/><stop offset="0.1580" stop-color="#f4d4ac"/><stop offset="0.1820" stop-color="#f4d4ac"/><stop offset="0.2100" stop-color="#f08122"/><stop offset="0.5340" stop-color="#f08122"/><stop offset="0.5620" stop-color="#f4d4ac"/><stop offset="0.5860" stop-color="#f4d4ac"/><stop offset="0.6140" stop-color="#4084f6"/><stop offset="0.7500" stop-color="#4084f6"/><stop offset="0.7780" stop-color="#3876e6"/><stop offset="0.8460" stop-color="#1f4380"/><stop offset="0.8740" stop-color="#1c3a68"/><stop offset="1.0000" stop-color="#1c3a68"/></linearGradient>
<linearGradient id="g40" gradientUnits="userSpaceOnUse" x1="0" y1="512.9" x2="0" y2="544.9"><stop offset="0.0000" stop-color="#1c3a68"/><stop offset="0.2297" stop-color="#1c3a68"/><stop offset="0.2516" stop-color="#3674e2"/><stop offset="0.3047" stop-color="#3674e2"/><stop offset="0.3266" stop-color="#f4d4ac"/><stop offset="0.3453" stop-color="#f4d4ac"/><stop offset="0.3672" stop-color="#f08122"/><stop offset="0.8641" stop-color="#f08122"/><stop offset="0.8859" stop-color="#f4d4ac"/><stop offset="0.8984" stop-color="#f4d4ac"/><stop offset="0.9203" stop-color="#3876e6"/><stop offset="0.9641" stop-color="#3876e6"/><stop offset="0.9859" stop-color="#1f4380"/><stop offset="1.0000" stop-color="#1f4380"/></linearGradient>
</defs>
<rect width="685" height="609" fill="#fff"/>
<rect x="199.3" y="11.1" width="300.3" height="112.2" fill="#000"/>
<rect x="199.3" y="11.4" width="135" height="92.4" fill="url(#g0)"/>
<rect x="332.7" y="93.7" width="2.6" height="10.1" fill="url(#g0)"/>
<rect x="334.3" y="93.7" width="165.3" height="29.6" fill="url(#g1)"/>
<line x1="208.9" y1="22.75" x2="346.07" y2="22.75" stroke="#8fe03c" stroke-width="2.4" stroke-linecap="butt" />
<polygon points="350.2,22.75 342.7,19.15 345.55,22.75 342.7,26.35" fill="#8fe03c"/>
<line x1="343.7" y1="109.3" x2="488.88" y2="109.3" stroke="#8fe03c" stroke-width="2.6" stroke-linecap="butt" />
<polygon points="493,109.3 485.5,105.7 488.35,109.3 485.5,112.9" fill="#8fe03c"/>
<line x1="343.6" y1="29.4" x2="343.6" y2="94" stroke="#8fe03c" stroke-width="2.9" stroke-linecap="butt" stroke-dasharray="9.6 8.1" />
<polygon points="343.6,100.3 339.9,93.1 343.6,95.84 347.3,93.1" fill="#8fe03c"/>
<path d="M356.5 16.5L371.1 31.1M371.1 16.5L356.5 31.1" stroke="#d6d4f2" stroke-width="7.4" fill="none" />
<path d="M356.5 16.5L371.1 31.1M371.1 16.5L356.5 31.1" stroke="#ff1f1f" stroke-width="5.6" fill="none" />
<line x1="323.6" y1="28.35" x2="336.4" y2="28.35" stroke="#f4f4f8" stroke-width="1.1" stroke-linecap="butt" />
<line x1="323.6" y1="103.5" x2="336.4" y2="103.5" stroke="#f4f4f8" stroke-width="1.1" stroke-linecap="butt" />
<line x1="329.6" y1="28.35" x2="329.6" y2="103.5" stroke="#f4f4f8" stroke-width="1.6" stroke-linecap="butt" stroke-dasharray="6.3 5.9" stroke-dashoffset="0"/>
<text x="249.9" y="41.1" font-size="9" fill="#e6eefc" text-anchor="start" font-weight="bold" font-family="'Liberation Sans', sans-serif" >Diamond</text>
<text x="280.6" y="66.75" font-size="9.1" fill="#e6eefc" text-anchor="start" font-weight="bold" font-family="'Liberation Sans', sans-serif" ><tspan stroke="#e6eefc" stroke-width="0.45">≈</tspan> 26.7 THz</text>
<text x="256.5" y="87.6" font-size="9.65" fill="#e6eefc" text-anchor="start" font-weight="bold" font-family="'Liberation Sans', sans-serif" >Phonon bridge</text>
<text x="220.8" y="117.6" font-size="9.2" fill="#f4f4f8" text-anchor="start" font-weight="bold" font-family="'Liberation Sans', sans-serif" >TBR=10.5 m<tspan font-size="5.52" dy="-3.4">2</tspan><tspan dy="3.4">·K·GW</tspan><tspan font-size="5.52" dy="-3.4">-1</tspan></text>
<text x="404.3" y="100.4" font-size="8.6" fill="#e6eefc" text-anchor="start" font-weight="bold" font-family="'Liberation Sans', sans-serif" >Cu</text>
<text x="399.2" y="29" font-size="9.7" fill="#b4b4b4" text-anchor="start" font-weight="bold" font-family="'Liberation Sans', sans-serif" >Phonon wall</text>
<text x="368.2" y="55.4" font-size="9.7" fill="#3d7cec" text-anchor="start" font-weight="bold" font-family="'Liberation Sans', sans-serif" >Inefficient phonon channel</text>
<text x="373.5" y="81.9" font-size="9.7" fill="#e87e22" text-anchor="start" font-weight="bold" font-family="'Liberation Sans', sans-serif" >Efficient phonon channel</text>
<path d="M199.3 11.1L199.3 123.3L499.6 123.3" stroke="#000" stroke-width="0.7" fill="none" />
<line x1="499.4" y1="11.4" x2="499.4" y2="123.3" stroke="#0a0f18" stroke-width="0.6" stroke-linecap="butt" />
<line x1="196.1" y1="123.3" x2="199.3" y2="123.3" stroke="#000" stroke-width="0.7" stroke-linecap="butt" />
<text x="193.2" y="125.25" font-size="7.1" fill="#000" text-anchor="end" font-weight="bold" font-family="'Liberation Sans', sans-serif" >0</text>
<line x1="197.5" y1="109.31" x2="199.3" y2="109.31" stroke="#000" stroke-width="0.7" stroke-linecap="butt" />
<line x1="196.1" y1="95.33" x2="199.3" y2="95.33" stroke="#000" stroke-width="0.7" stroke-linecap="butt" />
<text x="193.2" y="97.28" font-size="7.1" fill="#000" text-anchor="end" font-weight="bold" font-family="'Liberation Sans', sans-serif" >10</text>
<line x1="197.5" y1="81.34" x2="199.3" y2="81.34" stroke="#000" stroke-width="0.7" stroke-linecap="butt" />
<line x1="196.1" y1="67.35" x2="199.3" y2="67.35" stroke="#000" stroke-width="0.7" stroke-linecap="butt" />
<text x="193.2" y="69.3" font-size="7.1" fill="#000" text-anchor="end" font-weight="bold" font-family="'Liberation Sans', sans-serif" >20</text>
<line x1="197.5" y1="53.36" x2="199.3" y2="53.36" stroke="#000" stroke-width="0.7" stroke-linecap="butt" />
<line x1="196.1" y1="39.38" x2="199.3" y2="39.38" stroke="#000" stroke-width="0.7" stroke-linecap="butt" />
<text x="193.2" y="41.33" font-size="7.1" fill="#000" text-anchor="end" font-weight="bold" font-family="'Liberation Sans', sans-serif" >30</text>
<line x1="197.5" y1="25.39" x2="199.3" y2="25.39" stroke="#000" stroke-width="0.7" stroke-linecap="butt" />
<line x1="196.1" y1="11.4" x2="199.3" y2="11.4" stroke="#000" stroke-width="0.7" stroke-linecap="butt" />
<text x="193.2" y="13.35" font-size="7.1" fill="#000" text-anchor="end" font-weight="bold" font-family="'Liberation Sans', sans-serif" >40</text>
<line x1="199.3" y1="123.3" x2="199.3" y2="126.5" stroke="#000" stroke-width="0.7" stroke-linecap="butt" />
<text x="199.3" y="134.75" font-size="7.1" fill="#000" text-anchor="middle" font-weight="bold" font-family="'Liberation Sans', sans-serif" >0</text>
<line x1="229.3" y1="123.3" x2="229.3" y2="125.1" stroke="#000" stroke-width="0.7" stroke-linecap="butt" />
<line x1="259.3" y1="123.3" x2="259.3" y2="126.5" stroke="#000" stroke-width="0.7" stroke-linecap="butt" />
<text x="259.3" y="134.75" font-size="7.1" fill="#000" text-anchor="middle" font-weight="bold" font-family="'Liberation Sans', sans-serif" >60</text>
<line x1="289.3" y1="123.3" x2="289.3" y2="125.1" stroke="#000" stroke-width="0.7" stroke-linecap="butt" />
<line x1="319.3" y1="123.3" x2="319.3" y2="126.5" stroke="#000" stroke-width="0.7" stroke-linecap="butt" />
<text x="319.3" y="134.75" font-size="7.1" fill="#000" text-anchor="middle" font-weight="bold" font-family="'Liberation Sans', sans-serif" >120</text>
<line x1="349.3" y1="123.3" x2="349.3" y2="125.1" stroke="#000" stroke-width="0.7" stroke-linecap="butt" />
<line x1="379.3" y1="123.3" x2="379.3" y2="126.5" stroke="#000" stroke-width="0.7" stroke-linecap="butt" />
<text x="379.3" y="134.75" font-size="7.1" fill="#000" text-anchor="middle" font-weight="bold" font-family="'Liberation Sans', sans-serif" >180</text>
<line x1="409.3" y1="123.3" x2="409.3" y2="125.1" stroke="#000" stroke-width="0.7" stroke-linecap="butt" />
<line x1="439.3" y1="123.3" x2="439.3" y2="126.5" stroke="#000" stroke-width="0.7" stroke-linecap="butt" />
<text x="439.3" y="134.75" font-size="7.1" fill="#000" text-anchor="middle" font-weight="bold" font-family="'Liberation Sans', sans-serif" >240</text>
<line x1="469.3" y1="123.3" x2="469.3" y2="125.1" stroke="#000" stroke-width="0.7" stroke-linecap="butt" />
<line x1="499.3" y1="123.3" x2="499.3" y2="126.5" stroke="#000" stroke-width="0.7" stroke-linecap="butt" />
<text x="499.3" y="134.75" font-size="7.1" fill="#000" text-anchor="middle" font-weight="bold" font-family="'Liberation Sans', sans-serif" >300</text>
<text x="350.1" y="149.7" font-size="10.8" fill="#000" text-anchor="middle" font-weight="bold" font-family="'Liberation Sans', sans-serif" >Z position (Å)</text>
<text transform="translate(179.1 66.75) rotate(-90)" font-size="10.8" font-weight="bold" text-anchor="middle" font-family="'Liberation Sans', sans-serif">Frequency (THz)</text>
<text x="170.6" y="11.6" font-size="19.5" fill="#000" text-anchor="start" font-weight="bold" font-family="'Liberation Sans', sans-serif" >a</text>
<rect x="547.1" y="3.4" width="15.3" height="127.1" fill="url(#g2)"/>
<rect x="547.1" y="130.3" width="15.3" height="5.4" fill="#000"/>
<rect x="547.1" y="3.4" width="15.3" height="132.3" fill="none" stroke="#333" stroke-width="0.5"/>
<line x1="562.4" y1="133" x2="565.7" y2="133" stroke="#000" stroke-width="0.7" stroke-linecap="butt" />
<text x="568" y="135.1" font-size="6" fill="#000" text-anchor="start" font-weight="bold" font-family="'Liberation Sans', sans-serif" >0.000</text>
<line x1="562.4" y1="117.12" x2="565.7" y2="117.12" stroke="#000" stroke-width="0.7" stroke-linecap="butt" />
<text x="568" y="119.22" font-size="6" fill="#000" text-anchor="start" font-weight="bold" font-family="'Liberation Sans', sans-serif" >0.01250</text>
<line x1="562.4" y1="101.25" x2="565.7" y2="101.25" stroke="#000" stroke-width="0.7" stroke-linecap="butt" />
<text x="568" y="103.35" font-size="6" fill="#000" text-anchor="start" font-weight="bold" font-family="'Liberation Sans', sans-serif" >0.02500</text>
<line x1="562.4" y1="85.38" x2="565.7" y2="85.38" stroke="#000" stroke-width="0.7" stroke-linecap="butt" />
<text x="568" y="87.47" font-size="6" fill="#000" text-anchor="start" font-weight="bold" font-family="'Liberation Sans', sans-serif" >0.03750</text>
<line x1="562.4" y1="69.5" x2="565.7" y2="69.5" stroke="#000" stroke-width="0.7" stroke-linecap="butt" />
<text x="568" y="71.6" font-size="6" fill="#000" text-anchor="start" font-weight="bold" font-family="'Liberation Sans', sans-serif" >0.05000</text>
<line x1="562.4" y1="53.62" x2="565.7" y2="53.62" stroke="#000" stroke-width="0.7" stroke-linecap="butt" />
<text x="568" y="55.73" font-size="6" fill="#000" text-anchor="start" font-weight="bold" font-family="'Liberation Sans', sans-serif" >0.06250</text>
<line x1="562.4" y1="37.75" x2="565.7" y2="37.75" stroke="#000" stroke-width="0.7" stroke-linecap="butt" />
<text x="568" y="39.85" font-size="6" fill="#000" text-anchor="start" font-weight="bold" font-family="'Liberation Sans', sans-serif" >0.07500</text>
<line x1="562.4" y1="21.88" x2="565.7" y2="21.88" stroke="#000" stroke-width="0.7" stroke-linecap="butt" />
<text x="568" y="23.98" font-size="6" fill="#000" text-anchor="start" font-weight="bold" font-family="'Liberation Sans', sans-serif" >0.08750</text>
<line x1="562.4" y1="6" x2="565.7" y2="6" stroke="#000" stroke-width="0.7" stroke-linecap="butt" />
<text x="568" y="8.1" font-size="6" fill="#000" text-anchor="start" font-weight="bold" font-family="'Liberation Sans', sans-serif" >0.1000</text>
<rect x="32.6" y="161.2" width="300.3" height="112.2" fill="#000"/>
<rect x="32.6" y="161.5" width="135" height="92.4" fill="url(#g3)"/>
<rect x="166" y="238.9" width="2.6" height="15" fill="url(#g3)"/>
<rect x="167.6" y="238.9" width="30" height="32.5" fill="url(#g4)"/>
<rect x="196" y="243.8" width="2.6" height="27.6" fill="url(#g4)"/>
<rect x="197.6" y="243.8" width="135.3" height="29.6" fill="url(#g5)"/>
<line x1="156.9" y1="178.45" x2="169.7" y2="178.45" stroke="#f4f4f8" stroke-width="1.1" stroke-linecap="butt" />
<line x1="156.9" y1="243.5" x2="169.7" y2="243.5" stroke="#f4f4f8" stroke-width="1.1" stroke-linecap="butt" />
<line x1="163.1" y1="178.45" x2="163.1" y2="243.5" stroke="#f4f4f8" stroke-width="1.5" stroke-linecap="butt" stroke-dasharray="6.2 6.3" stroke-dashoffset="0"/>
<text x="76.2" y="189.9" font-size="9" fill="#e6eefc" text-anchor="start" font-weight="bold" font-family="'Liberation Sans', sans-serif" >Diamond</text>
<text x="111.8" y="214.7" font-size="9.1" fill="#e6eefc" text-anchor="start" font-weight="bold" font-family="'Liberation Sans', sans-serif" ><tspan stroke="#e6eefc" stroke-width="0.45">≈</tspan> 23.2 THz</text>
<text x="53.8" y="267" font-size="8.9" fill="#f4f4f8" text-anchor="start" font-weight="bold" font-family="'Liberation Sans', sans-serif" >TBR=6.7 m<tspan font-size="5.34" dy="-3.4">2</tspan><tspan dy="3.4">·K·GW</tspan><tspan font-size="5.34" dy="-3.4">-1</tspan></text>
<text x="176.3" y="237.8" font-size="8.8" fill="#f4f4f8" text-anchor="start" font-weight="bold" font-family="'Liberation Sans', sans-serif" >Cr</text>
<text x="254.3" y="263.5" font-size="8.8" fill="#e6eefc" text-anchor="start" font-weight="bold" font-family="'Liberation Sans', sans-serif" >Cu</text>
<rect x="162.1" y="228.9" width="47.5" height="40.7" rx="1.5" fill="none" stroke="#cc1c14" stroke-width="1.1" stroke-dasharray="4.5 3.5" opacity="1"/>
<rect x="222" y="164.6" width="15.2" height="45.1" fill="url(#g6)"/>
<rect x="235.6" y="186.5" width="2.6" height="23.2" fill="url(#g6)"/>
<rect x="237.2" y="186.5" width="36.8" height="52.2" fill="url(#g7)"/>
<rect x="272.4" y="193.9" width="2.6" height="44.8" fill="url(#g7)"/>
<rect x="274" y="193.9" width="43" height="46.1" fill="url(#g8)"/>
<line x1="232.5" y1="165.3" x2="232.5" y2="175.1" stroke="#8fe03c" stroke-width="2.7" stroke-linecap="butt" />
<line x1="232.5" y1="182.2" x2="232.5" y2="187.5" stroke="#84d44a" stroke-width="2.7" stroke-linecap="butt" />
<polygon points="232.5,192.9 229,186.5 232.5,186.5 236,186.5" fill="#84d44a"/>
<path d="M237.6 204.2H274.8V221.5H310" stroke="#78c258" stroke-width="2.7" fill="none" />
<polygon points="316.5,221.5 309.1,218 309.1,221.5 309.1,225" fill="#78c258"/>
<text x="249.2" y="182.2" font-size="9.9" fill="#f4f4f8" text-anchor="start" font-weight="bold" font-family="'Liberation Sans', sans-serif" >Cr</text>
<text x="290" y="189.7" font-size="9.3" fill="#f4f4f8" text-anchor="start" font-weight="bold" font-family="'Liberation Sans', sans-serif" >Cu</text>
<rect x="220.8" y="162.9" width="99.3" height="78.5" rx="1.5" fill="none" stroke="#cc1c14" stroke-width="1.3" stroke-dasharray="4.6 3.9" opacity="1"/>
<path d="M32.6 161.2L32.6 273.4L332.9 273.4" stroke="#000" stroke-width="0.7" fill="none" />
<line x1="332.7" y1="161.5" x2="332.7" y2="273.4" stroke="#0a0f18" stroke-width="0.6" stroke-linecap="butt" />
<line x1="29.4" y1="273.4" x2="32.6" y2="273.4" stroke="#000" stroke-width="0.7" stroke-linecap="butt" />
<text x="26.5" y="275.35" font-size="7.1" fill="#000" text-anchor="end" font-weight="bold" font-family="'Liberation Sans', sans-serif" >0</text>
<line x1="30.8" y1="259.41" x2="32.6" y2="259.41" stroke="#000" stroke-width="0.7" stroke-linecap="butt" />
<line x1="29.4" y1="245.42" x2="32.6" y2="245.42" stroke="#000" stroke-width="0.7" stroke-linecap="butt" />
<text x="26.5" y="247.37" font-size="7.1" fill="#000" text-anchor="end" font-weight="bold" font-family="'Liberation Sans', sans-serif" >10</text>
<line x1="30.8" y1="231.44" x2="32.6" y2="231.44" stroke="#000" stroke-width="0.7" stroke-linecap="butt" />
<line x1="29.4" y1="217.45" x2="32.6" y2="217.45" stroke="#000" stroke-width="0.7" stroke-linecap="butt" />
<text x="26.5" y="219.4" font-size="7.1" fill="#000" text-anchor="end" font-weight="bold" font-family="'Liberation Sans', sans-serif" >20</text>
<line x1="30.8" y1="203.46" x2="32.6" y2="203.46" stroke="#000" stroke-width="0.7" stroke-linecap="butt" />
<line x1="29.4" y1="189.47" x2="32.6" y2="189.47" stroke="#000" stroke-width="0.7" stroke-linecap="butt" />
<text x="26.5" y="191.42" font-size="7.1" fill="#000" text-anchor="end" font-weight="bold" font-family="'Liberation Sans', sans-serif" >30</text>
<line x1="30.8" y1="175.49" x2="32.6" y2="175.49" stroke="#000" stroke-width="0.7" stroke-linecap="butt" />
<line x1="29.4" y1="161.5" x2="32.6" y2="161.5" stroke="#000" stroke-width="0.7" stroke-linecap="butt" />
<text x="26.5" y="163.45" font-size="7.1" fill="#000" text-anchor="end" font-weight="bold" font-family="'Liberation Sans', sans-serif" >40</text>
<line x1="32.6" y1="273.4" x2="32.6" y2="276.6" stroke="#000" stroke-width="0.7" stroke-linecap="butt" />
<text x="32.6" y="284.85" font-size="7.1" fill="#000" text-anchor="middle" font-weight="bold" font-family="'Liberation Sans', sans-serif" >0</text>
<line x1="62.6" y1="273.4" x2="62.6" y2="275.2" stroke="#000" stroke-width="0.7" stroke-linecap="butt" />
<line x1="92.6" y1="273.4" x2="92.6" y2="276.6" stroke="#000" stroke-width="0.7" stroke-linecap="butt" />
<text x="92.6" y="284.85" font-size="7.1" fill="#000" text-anchor="middle" font-weight="bold" font-family="'Liberation Sans', sans-serif" >60</text>
<line x1="122.6" y1="273.4" x2="122.6" y2="275.2" stroke="#000" stroke-width="0.7" stroke-linecap="butt" />
<line x1="152.6" y1="273.4" x2="152.6" y2="276.6" stroke="#000" stroke-width="0.7" stroke-linecap="butt" />
<text x="152.6" y="284.85" font-size="7.1" fill="#000" text-anchor="middle" font-weight="bold" font-family="'Liberation Sans', sans-serif" >120</text>
<line x1="182.6" y1="273.4" x2="182.6" y2="275.2" stroke="#000" stroke-width="0.7" stroke-linecap="butt" />
<line x1="212.6" y1="273.4" x2="212.6" y2="276.6" stroke="#000" stroke-width="0.7" stroke-linecap="butt" />
<text x="212.6" y="284.85" font-size="7.1" fill="#000" text-anchor="middle" font-weight="bold" font-family="'Liberation Sans', sans-serif" >180</text>
<line x1="242.6" y1="273.4" x2="242.6" y2="275.2" stroke="#000" stroke-width="0.7" stroke-linecap="butt" />
<line x1="272.6" y1="273.4" x2="272.6" y2="276.6" stroke="#000" stroke-width="0.7" stroke-linecap="butt" />
<text x="272.6" y="284.85" font-size="7.1" fill="#000" text-anchor="middle" font-weight="bold" font-family="'Liberation Sans', sans-serif" >240</text>
<line x1="302.6" y1="273.4" x2="302.6" y2="275.2" stroke="#000" stroke-width="0.7" stroke-linecap="butt" />
<line x1="332.6" y1="273.4" x2="332.6" y2="276.6" stroke="#000" stroke-width="0.7" stroke-linecap="butt" />
<text x="332.6" y="284.85" font-size="7.1" fill="#000" text-anchor="middle" font-weight="bold" font-family="'Liberation Sans', sans-serif" >300</text>
<text x="183" y="300.5" font-size="10.8" fill="#000" text-anchor="middle" font-weight="bold" font-family="'Liberation Sans', sans-serif" >Z position (Å)</text>
<text transform="translate(12.5 216.85) rotate(-90)" font-size="10.8" font-weight="bold" text-anchor="middle" font-family="'Liberation Sans', sans-serif">Frequency (THz)</text>
<text x="6.4" y="162.9" font-size="19.6" fill="#000" text-anchor="start" font-weight="bold" font-family="'Liberation Sans', sans-serif" >b</text>
<rect x="375.5" y="161.2" width="300.3" height="112.2" fill="#000"/>
<rect x="375.5" y="161.5" width="135" height="92.4" fill="url(#g9)"/>
<rect x="508.9" y="246.2" width="2.6" height="7.7" fill="url(#g9)"/>
<rect x="510.5" y="246.2" width="30" height="25.5" fill="url(#g10)"/>
<rect x="538.9" y="246.2" width="2.6" height="25.5" fill="url(#g10)"/>
<rect x="540.5" y="243.8" width="135.3" height="29.6" fill="url(#g11)"/>
<line x1="499.8" y1="178.45" x2="512.6" y2="178.45" stroke="#f4f4f8" stroke-width="1.1" stroke-linecap="butt" />
<line x1="499.8" y1="248.8" x2="512.6" y2="248.8" stroke="#f4f4f8" stroke-width="1.1" stroke-linecap="butt" />
<line x1="506" y1="178.45" x2="506" y2="248.8" stroke="#f4f4f8" stroke-width="1.5" stroke-linecap="butt" stroke-dasharray="6.2 6.3" stroke-dashoffset="0"/>
<text x="424.9" y="189.7" font-size="9" fill="#e6eefc" text-anchor="start" font-weight="bold" font-family="'Liberation Sans', sans-serif" >Diamond</text>
<text x="455.6" y="218.7" font-size="9.1" fill="#e6eefc" text-anchor="start" font-weight="bold" font-family="'Liberation Sans', sans-serif" ><tspan stroke="#e6eefc" stroke-width="0.45">≈</tspan> 25.4 THz</text>
<text x="397.3" y="266.9" font-size="8.9" fill="#f4f4f8" text-anchor="start" font-weight="bold" font-family="'Liberation Sans', sans-serif" >TBR=7.6 m<tspan font-size="5.34" dy="-3.4">2</tspan><tspan dy="3.4">·K·GW</tspan></text>
<text x="517.8" y="245.4" font-size="8.9" fill="#f4f4f8" text-anchor="start" font-weight="bold" font-family="'Liberation Sans', sans-serif" >Mo</text>
<text x="596.6" y="263.5" font-size="8.8" fill="#e6eefc" text-anchor="start" font-weight="bold" font-family="'Liberation Sans', sans-serif" >Cu</text>
<rect x="508.3" y="229.1" width="43.4" height="41.2" rx="1.5" fill="none" stroke="#cc1c14" stroke-width="1.1" stroke-dasharray="4.5 3.5" opacity="1"/>
<rect x="561.1" y="164.1" width="17.6" height="43.8" fill="url(#g12)"/>
<rect x="577.1" y="197.9" width="2.6" height="10" fill="url(#g12)"/>
<rect x="578.7" y="197.9" width="35.9" height="38.6" fill="url(#g13)"/>
<rect x="613" y="197.9" width="2.6" height="38.6" fill="url(#g13)"/>
<rect x="614.6" y="192.7" width="36.4" height="44.1" fill="url(#g14)"/>
<line x1="574.3" y1="165.5" x2="574.3" y2="175.1" stroke="#8fe03c" stroke-width="2.7" stroke-linecap="butt" />
<line x1="574.3" y1="182.9" x2="574.3" y2="192.5" stroke="#84d44a" stroke-width="2.7" stroke-linecap="butt" />
<polygon points="574.3,198 570.8,191.4 574.3,191.4 577.8,191.4" fill="#84d44a"/>
<path d="M578.6 211.9H615.2V221.1H645.5" stroke="#78c258" stroke-width="2.7" fill="none" />
<polygon points="652,221.1 644.6,217.6 644.6,221.1 644.6,224.6" fill="#78c258"/>
<text x="590.9" y="191.4" font-size="9.7" fill="#f4f4f8" text-anchor="start" font-weight="bold" font-family="'Liberation Sans', sans-serif" >Mo</text>
<text x="629.5" y="199.1" font-size="9.3" fill="#f4f4f8" text-anchor="start" font-weight="bold" font-family="'Liberation Sans', sans-serif" >Cu</text>
<rect x="558.5" y="162.6" width="96.4" height="78.8" rx="1.5" fill="none" stroke="#cc1c14" stroke-width="1.3" stroke-dasharray="4.6 3.9" opacity="1"/>
<path d="M375.5 161.2L375.5 273.4L675.8 273.4" stroke="#000" stroke-width="0.7" fill="none" />
<line x1="675.6" y1="161.5" x2="675.6" y2="273.4" stroke="#0a0f18" stroke-width="0.6" stroke-linecap="butt" />
<line x1="372.3" y1="273.4" x2="375.5" y2="273.4" stroke="#000" stroke-width="0.7" stroke-linecap="butt" />
<text x="369.4" y="275.35" font-size="7.1" fill="#000" text-anchor="end" font-weight="bold" font-family="'Liberation Sans', sans-serif" >0</text>
<line x1="373.7" y1="259.41" x2="375.5" y2="259.41" stroke="#000" stroke-width="0.7" stroke-linecap="butt" />
<line x1="372.3" y1="245.42" x2="375.5" y2="245.42" stroke="#000" stroke-width="0.7" stroke-linecap="butt" />
<text x="369.4" y="247.37" font-size="7.1" fill="#000" text-anchor="end" font-weight="bold" font-family="'Liberation Sans', sans-serif" >10</text>
<line x1="373.7" y1="231.44" x2="375.5" y2="231.44" stroke="#000" stroke-width="0.7" stroke-linecap="butt" />
<line x1="372.3" y1="217.45" x2="375.5" y2="217.45" stroke="#000" stroke-width="0.7" stroke-linecap="butt" />
<text x="369.4" y="219.4" font-size="7.1" fill="#000" text-anchor="end" font-weight="bold" font-family="'Liberation Sans', sans-serif" >20</text>
<line x1="373.7" y1="203.46" x2="375.5" y2="203.46" stroke="#000" stroke-width="0.7" stroke-linecap="butt" />
<line x1="372.3" y1="189.47" x2="375.5" y2="189.47" stroke="#000" stroke-width="0.7" stroke-linecap="butt" />
<text x="369.4" y="191.42" font-size="7.1" fill="#000" text-anchor="end" font-weight="bold" font-family="'Liberation Sans', sans-serif" >30</text>
<line x1="373.7" y1="175.49" x2="375.5" y2="175.49" stroke="#000" stroke-width="0.7" stroke-linecap="butt" />
<line x1="372.3" y1="161.5" x2="375.5" y2="161.5" stroke="#000" stroke-width="0.7" stroke-linecap="butt" />
<text x="369.4" y="163.45" font-size="7.1" fill="#000" text-anchor="end" font-weight="bold" font-family="'Liberation Sans', sans-serif" >40</text>
<line x1="375.5" y1="273.4" x2="375.5" y2="276.6" stroke="#000" stroke-width="0.7" stroke-linecap="butt" />
<text x="375.5" y="284.85" font-size="7.1" fill="#000" text-anchor="middle" font-weight="bold" font-family="'Liberation Sans', sans-serif" >0</text>
<line x1="405.5" y1="273.4" x2="405.5" y2="275.2" stroke="#000" stroke-width="0.7" stroke-linecap="butt" />
<line x1="435.5" y1="273.4" x2="435.5" y2="276.6" stroke="#000" stroke-width="0.7" stroke-linecap="butt" />
<text x="435.5" y="284.85" font-size="7.1" fill="#000" text-anchor="middle" font-weight="bold" font-family="'Liberation Sans', sans-serif" >60</text>
<line x1="465.5" y1="273.4" x2="465.5" y2="275.2" stroke="#000" stroke-width="0.7" stroke-linecap="butt" />
<line x1="495.5" y1="273.4" x2="495.5" y2="276.6" stroke="#000" stroke-width="0.7" stroke-linecap="butt" />
<text x="495.5" y="284.85" font-size="7.1" fill="#000" text-anchor="middle" font-weight="bold" font-family="'Liberation Sans', sans-serif" >120</text>
<line x1="525.5" y1="273.4" x2="525.5" y2="275.2" stroke="#000" stroke-width="0.7" stroke-linecap="butt" />
<line x1="555.5" y1="273.4" x2="555.5" y2="276.6" stroke="#000" stroke-width="0.7" stroke-linecap="butt" />
<text x="555.5" y="284.85" font-size="7.1" fill="#000" text-anchor="middle" font-weight="bold" font-family="'Liberation Sans', sans-serif" >180</text>
<line x1="585.5" y1="273.4" x2="585.5" y2="275.2" stroke="#000" stroke-width="0.7" stroke-linecap="butt" />
<line x1="615.5" y1="273.4" x2="615.5" y2="276.6" stroke="#000" stroke-width="0.7" stroke-linecap="butt" />
<text x="615.5" y="284.85" font-size="7.1" fill="#000" text-anchor="middle" font-weight="bold" font-family="'Liberation Sans', sans-serif" >240</text>
<line x1="645.5" y1="273.4" x2="645.5" y2="275.2" stroke="#000" stroke-width="0.7" stroke-linecap="butt" />
<line x1="675.5" y1="273.4" x2="675.5" y2="276.6" stroke="#000" stroke-width="0.7" stroke-linecap="butt" />
<text x="675.5" y="284.85" font-size="7.1" fill="#000" text-anchor="middle" font-weight="bold" font-family="'Liberation Sans', sans-serif" >300</text>
<text x="526.8" y="300.9" font-size="10.8" fill="#000" text-anchor="middle" font-weight="bold" font-family="'Liberation Sans', sans-serif" >Z position (Å)</text>
<text transform="translate(355.4 216.85) rotate(-90)" font-size="10.8" font-weight="bold" text-anchor="middle" font-family="'Liberation Sans', sans-serif">Frequency (THz)</text>
<text x="346.4" y="163.7" font-size="19.5" fill="#000" text-anchor="start" font-weight="bold" font-family="'Liberation Sans', sans-serif" >c</text>
<rect x="33.5" y="313.3" width="300.3" height="112.2" fill="#000"/>
<rect x="33.5" y="313.6" width="135" height="92.4" fill="url(#g15)"/>
<rect x="166.9" y="395.5" width="2.6" height="10.5" fill="url(#g15)"/>
<rect x="168.5" y="395.5" width="30" height="29.5" fill="url(#g16)"/>
<rect x="196.9" y="395.9" width="2.6" height="29.1" fill="url(#g16)"/>
<rect x="198.5" y="395.9" width="135.3" height="29.6" fill="url(#g17)"/>
<line x1="157.8" y1="330.55" x2="170.6" y2="330.55" stroke="#f4f4f8" stroke-width="1.1" stroke-linecap="butt" />
<line x1="157.8" y1="403.4" x2="170.6" y2="403.4" stroke="#f4f4f8" stroke-width="1.1" stroke-linecap="butt" />
<line x1="164" y1="330.55" x2="164" y2="403.4" stroke="#f4f4f8" stroke-width="1.5" stroke-linecap="butt" stroke-dasharray="6.2 6.3" stroke-dashoffset="0"/>
<text x="69.2" y="341.7" font-size="9" fill="#e6eefc" text-anchor="start" font-weight="bold" font-family="'Liberation Sans', sans-serif" >Diamond</text>
<text x="115.1" y="369.6" font-size="9.1" fill="#e6eefc" text-anchor="start" font-weight="bold" font-family="'Liberation Sans', sans-serif" ><tspan stroke="#e6eefc" stroke-width="0.45">≈</tspan> 25.9 THz</text>
<text x="55.3" y="419.5" font-size="8.9" fill="#f4f4f8" text-anchor="start" font-weight="bold" font-family="'Liberation Sans', sans-serif" >TBR=6.1 m<tspan font-size="5.34" dy="-3.4">2</tspan><tspan dy="3.4">·K·GW</tspan></text>
<text x="177.4" y="398.6" font-size="8.9" fill="#f4f4f8" text-anchor="start" font-weight="bold" font-family="'Liberation Sans', sans-serif" >Ti</text>
<text x="252.2" y="416.4" font-size="8.8" fill="#e6eefc" text-anchor="start" font-weight="bold" font-family="'Liberation Sans', sans-serif" >Cu</text>
<rect x="160.7" y="387.5" width="49.9" height="37.2" rx="1.5" fill="none" stroke="#cc1c14" stroke-width="1.1" stroke-dasharray="4.5 3.5" opacity="1"/>
<rect x="213.9" y="318.8" width="21.2" height="42" fill="url(#g18)"/>
<rect x="233.5" y="345" width="2.6" height="15.8" fill="url(#g18)"/>
<rect x="235.1" y="345" width="35.7" height="45.6" fill="url(#g19)"/>
<rect x="269.2" y="345" width="2.6" height="45.6" fill="url(#g19)"/>
<rect x="270.8" y="345" width="43.1" height="45.6" fill="url(#g20)"/>
<line x1="231.9" y1="319.1" x2="231.9" y2="329.3" stroke="#8fe03c" stroke-width="2.6" stroke-linecap="butt" />
<line x1="231.9" y1="336.3" x2="231.9" y2="347.7" stroke="#8fe03c" stroke-width="2.6" stroke-linecap="butt" />
<polygon points="231.9,354.7 228.4,348.2 231.9,350.67 235.4,348.2" fill="#8fe03c"/>
<line x1="235.8" y1="371" x2="309.27" y2="371" stroke="#8fe03c" stroke-width="2.4" stroke-linecap="butt" />
<polygon points="313.4,371 305.9,367.7 308.75,371 305.9,374.3" fill="#8fe03c"/>
<text x="250.3" y="345.6" font-size="9" fill="#f4f4f8" text-anchor="start" font-weight="bold" font-family="'Liberation Sans', sans-serif" >Ti</text>
<text x="288" y="353.3" font-size="9.3" fill="#f4f4f8" text-anchor="start" font-weight="bold" font-family="'Liberation Sans', sans-serif" >Cu</text>
<rect x="213.5" y="318.2" width="103.4" height="72.9" rx="2.5" fill="none" stroke="#cc1c14" stroke-width="1.3" stroke-dasharray="4.6 3.9" opacity="1"/>
<path d="M33.5 313.3L33.5 425.5L333.8 425.5" stroke="#000" stroke-width="0.7" fill="none" />
<line x1="333.6" y1="313.6" x2="333.6" y2="425.5" stroke="#0a0f18" stroke-width="0.6" stroke-linecap="butt" />
<line x1="30.3" y1="425.5" x2="33.5" y2="425.5" stroke="#000" stroke-width="0.7" stroke-linecap="butt" />
<text x="27.4" y="427.45" font-size="7.1" fill="#000" text-anchor="end" font-weight="bold" font-family="'Liberation Sans', sans-serif" >0</text>
<line x1="31.7" y1="411.51" x2="33.5" y2="411.51" stroke="#000" stroke-width="0.7" stroke-linecap="butt" />
<line x1="30.3" y1="397.52" x2="33.5" y2="397.52" stroke="#000" stroke-width="0.7" stroke-linecap="butt" />
<text x="27.4" y="399.47" font-size="7.1" fill="#000" text-anchor="end" font-weight="bold" font-family="'Liberation Sans', sans-serif" >10</text>
<line x1="31.7" y1="383.54" x2="33.5" y2="383.54" stroke="#000" stroke-width="0.7" stroke-linecap="butt" />
<line x1="30.3" y1="369.55" x2="33.5" y2="369.55" stroke="#000" stroke-width="0.7" stroke-linecap="butt" />
<text x="27.4" y="371.5" font-size="7.1" fill="#000" text-anchor="end" font-weight="bold" font-family="'Liberation Sans', sans-serif" >20</text>
<line x1="31.7" y1="355.56" x2="33.5" y2="355.56" stroke="#000" stroke-width="0.7" stroke-linecap="butt" />
<line x1="30.3" y1="341.57" x2="33.5" y2="341.57" stroke="#000" stroke-width="0.7" stroke-linecap="butt" />
<text x="27.4" y="343.52" font-size="7.1" fill="#000" text-anchor="end" font-weight="bold" font-family="'Liberation Sans', sans-serif" >30</text>
<line x1="31.7" y1="327.59" x2="33.5" y2="327.59" stroke="#000" stroke-width="0.7" stroke-linecap="butt" />
<line x1="30.3" y1="313.6" x2="33.5" y2="313.6" stroke="#000" stroke-width="0.7" stroke-linecap="butt" />
<text x="27.4" y="315.55" font-size="7.1" fill="#000" text-anchor="end" font-weight="bold" font-family="'Liberation Sans', sans-serif" >40</text>
<line x1="33.5" y1="425.5" x2="33.5" y2="428.7" stroke="#000" stroke-width="0.7" stroke-linecap="butt" />
<text x="33.5" y="436.95" font-size="7.1" fill="#000" text-anchor="middle" font-weight="bold" font-family="'Liberation Sans', sans-serif" >0</text>
<line x1="63.5" y1="425.5" x2="63.5" y2="427.3" stroke="#000" stroke-width="0.7" stroke-linecap="butt" />
<line x1="93.5" y1="425.5" x2="93.5" y2="428.7" stroke="#000" stroke-width="0.7" stroke-linecap="butt" />
<text x="93.5" y="436.95" font-size="7.1" fill="#000" text-anchor="middle" font-weight="bold" font-family="'Liberation Sans', sans-serif" >60</text>
<line x1="123.5" y1="425.5" x2="123.5" y2="427.3" stroke="#000" stroke-width="0.7" stroke-linecap="butt" />
<line x1="153.5" y1="425.5" x2="153.5" y2="428.7" stroke="#000" stroke-width="0.7" stroke-linecap="butt" />
<text x="153.5" y="436.95" font-size="7.1" fill="#000" text-anchor="middle" font-weight="bold" font-family="'Liberation Sans', sans-serif" >120</text>
<line x1="183.5" y1="425.5" x2="183.5" y2="427.3" stroke="#000" stroke-width="0.7" stroke-linecap="butt" />
<line x1="213.5" y1="425.5" x2="213.5" y2="428.7" stroke="#000" stroke-width="0.7" stroke-linecap="butt" />
<text x="213.5" y="436.95" font-size="7.1" fill="#000" text-anchor="middle" font-weight="bold" font-family="'Liberation Sans', sans-serif" >180</text>
<line x1="243.5" y1="425.5" x2="243.5" y2="427.3" stroke="#000" stroke-width="0.7" stroke-linecap="butt" />
<line x1="273.5" y1="425.5" x2="273.5" y2="428.7" stroke="#000" stroke-width="0.7" stroke-linecap="butt" />
<text x="273.5" y="436.95" font-size="7.1" fill="#000" text-anchor="middle" font-weight="bold" font-family="'Liberation Sans', sans-serif" >240</text>
<line x1="303.5" y1="425.5" x2="303.5" y2="427.3" stroke="#000" stroke-width="0.7" stroke-linecap="butt" />
<line x1="333.5" y1="425.5" x2="333.5" y2="428.7" stroke="#000" stroke-width="0.7" stroke-linecap="butt" />
<text x="333.5" y="436.95" font-size="7.1" fill="#000" text-anchor="middle" font-weight="bold" font-family="'Liberation Sans', sans-serif" >300</text>
<text x="184.4" y="452.2" font-size="10.8" fill="#000" text-anchor="middle" font-weight="bold" font-family="'Liberation Sans', sans-serif" >Z position (Å)</text>
<text transform="translate(13 368.95) rotate(-90)" font-size="10.8" font-weight="bold" text-anchor="middle" font-family="'Liberation Sans', sans-serif">Frequency (THz)</text>
<text x="7.7" y="313.2" font-size="20" fill="#000" text-anchor="start" font-weight="bold" font-family="'Liberation Sans', sans-serif" >d</text>
<rect x="376.2" y="313.3" width="300.3" height="112.2" fill="#000"/>
<rect x="376.2" y="313.6" width="135" height="92.4" fill="url(#g21)"/>
<rect x="509.6" y="363" width="2.6" height="43" fill="url(#g21)"/>
<rect x="511.2" y="363" width="30" height="56.7" fill="url(#g22)"/>
<rect x="539.6" y="395.9" width="2.6" height="23.8" fill="url(#g22)"/>
<rect x="541.2" y="395.9" width="135.3" height="29.6" fill="url(#g23)"/>
<line x1="500.5" y1="330.55" x2="513.3" y2="330.55" stroke="#f4f4f8" stroke-width="1.1" stroke-linecap="butt" />
<line x1="500.5" y1="400.6" x2="513.3" y2="400.6" stroke="#f4f4f8" stroke-width="1.1" stroke-linecap="butt" />
<line x1="506.9" y1="330.55" x2="506.9" y2="400.6" stroke="#f4f4f8" stroke-width="1.5" stroke-linecap="butt" stroke-dasharray="6.2 6.3" stroke-dashoffset="0"/>
<text x="423.6" y="342.7" font-size="9" fill="#e6eefc" text-anchor="start" font-weight="bold" font-family="'Liberation Sans', sans-serif" >Diamond</text>
<text x="448.1" y="367.3" font-size="9.1" fill="#e6eefc" text-anchor="start" font-weight="bold" font-family="'Liberation Sans', sans-serif" ><tspan stroke="#e6eefc" stroke-width="0.45">≈</tspan> 25.0 THz</text>
<text x="397.8" y="419.5" font-size="8.9" fill="#f4f4f8" text-anchor="start" font-weight="bold" font-family="'Liberation Sans', sans-serif" >TBR=6.4 m<tspan font-size="5.34" dy="-3.4">2</tspan><tspan dy="3.4">·K·GW</tspan></text>
<text x="518.2" y="395" font-size="8.7" fill="#f4f4f8" text-anchor="start" font-weight="bold" font-family="'Liberation Sans', sans-serif" >TiC</text>
<text x="602.8" y="415.2" font-size="8.8" fill="#e6eefc" text-anchor="start" font-weight="bold" font-family="'Liberation Sans', sans-serif" >Cu</text>
<rect x="498.9" y="358.9" width="66" height="66" rx="1.5" fill="none" stroke="#a81c1c" stroke-width="1.2" stroke-dasharray="4.5 3.5" opacity="1"/>
<rect x="591.8" y="317.2" width="16.3" height="53.6" fill="url(#g24)"/>
<rect x="606.5" y="322" width="2.6" height="48.8" fill="url(#g24)"/>
<rect x="608.1" y="322" width="25.4" height="64.6" fill="url(#g25)"/>
<rect x="631.9" y="359.4" width="2.6" height="27.2" fill="url(#g25)"/>
<rect x="633.5" y="359.4" width="33.7" height="31.8" fill="url(#g26)"/>
<line x1="602.2" y1="319.1" x2="602.2" y2="328.7" stroke="#8fe03c" stroke-width="2.6" stroke-linecap="butt" />
<line x1="602.2" y1="336.1" x2="602.2" y2="345.7" stroke="#8fe03c" stroke-width="2.6" stroke-linecap="butt" />
<line x1="602.2" y1="353.1" x2="602.2" y2="364.5" stroke="#8fe03c" stroke-width="2.6" stroke-linecap="butt" />
<polygon points="602.2,370.2 598.7,364 602.2,366.36 605.7,364" fill="#8fe03c"/>
<path d="M608.1 341.2H634.6" stroke="#8fe03c" stroke-width="2.6" fill="none" />
<path d="M608.1 367.8H634.6" stroke="#8fe03c" stroke-width="2.6" fill="none" />
<path d="M634.5 340.1V350.8" stroke="#8fe03c" stroke-width="2.6" fill="none" />
<path d="M634.5 358.2V378.3H660" stroke="#8fe03c" stroke-width="2.4" fill="none" />
<polygon points="666.6,378.3 658.6,375 661.64,378.3 658.6,381.6" fill="#8fe03c"/>
<text x="614.9" y="323.9" font-size="9" fill="#f4f4f8" text-anchor="start" font-weight="bold" font-family="'Liberation Sans', sans-serif" >TiC</text>
<text x="648" y="363" font-size="9.3" fill="#f4f4f8" text-anchor="start" font-weight="bold" font-family="'Liberation Sans', sans-serif" >Cu</text>
<rect x="589.2" y="314.6" width="81.3" height="79.1" rx="2.5" fill="none" stroke="#c01c16" stroke-width="1.4" stroke-dasharray="4.6 3.9" opacity="1"/>
<path d="M376.2 313.3L376.2 425.5L676.5 425.5" stroke="#000" stroke-width="0.7" fill="none" />
<line x1="676.3" y1="313.6" x2="676.3" y2="425.5" stroke="#0a0f18" stroke-width="0.6" stroke-linecap="butt" />
<line x1="373" y1="425.5" x2="376.2" y2="425.5" stroke="#000" stroke-width="0.7" stroke-linecap="butt" />
<text x="370.1" y="428.1" font-size="7.3" fill="#000" text-anchor="end" font-weight="bold" font-family="'Liberation Serif', serif" stroke="#000" stroke-width="0.3">0</text>
<line x1="374.4" y1="411.51" x2="376.2" y2="411.51" stroke="#000" stroke-width="0.7" stroke-linecap="butt" />
<line x1="373" y1="397.52" x2="376.2" y2="397.52" stroke="#000" stroke-width="0.7" stroke-linecap="butt" />
<text x="370.1" y="400.12" font-size="7.3" fill="#000" text-anchor="end" font-weight="bold" font-family="'Liberation Serif', serif" stroke="#000" stroke-width="0.3">10</text>
<line x1="374.4" y1="383.54" x2="376.2" y2="383.54" stroke="#000" stroke-width="0.7" stroke-linecap="butt" />
<line x1="373" y1="369.55" x2="376.2" y2="369.55" stroke="#000" stroke-width="0.7" stroke-linecap="butt" />
<text x="370.1" y="372.15" font-size="7.3" fill="#000" text-anchor="end" font-weight="bold" font-family="'Liberation Serif', serif" stroke="#000" stroke-width="0.3">20</text>
<line x1="374.4" y1="355.56" x2="376.2" y2="355.56" stroke="#000" stroke-width="0.7" stroke-linecap="butt" />
<line x1="373" y1="341.57" x2="376.2" y2="341.57" stroke="#000" stroke-width="0.7" stroke-linecap="butt" />
<text x="370.1" y="344.18" font-size="7.3" fill="#000" text-anchor="end" font-weight="bold" font-family="'Liberation Serif', serif" stroke="#000" stroke-width="0.3">30</text>
<line x1="374.4" y1="327.59" x2="376.2" y2="327.59" stroke="#000" stroke-width="0.7" stroke-linecap="butt" />
<line x1="373" y1="313.6" x2="376.2" y2="313.6" stroke="#000" stroke-width="0.7" stroke-linecap="butt" />
<text x="370.1" y="316.2" font-size="7.3" fill="#000" text-anchor="end" font-weight="bold" font-family="'Liberation Serif', serif" stroke="#000" stroke-width="0.3">40</text>
<line x1="376.2" y1="425.5" x2="376.2" y2="428.7" stroke="#000" stroke-width="0.7" stroke-linecap="butt" />
<text x="376.2" y="437.5" font-size="7.3" fill="#000" text-anchor="middle" font-weight="bold" font-family="'Liberation Serif', serif" stroke="#000" stroke-width="0.3">0</text>
<line x1="406.2" y1="425.5" x2="406.2" y2="427.3" stroke="#000" stroke-width="0.7" stroke-linecap="butt" />
<line x1="436.2" y1="425.5" x2="436.2" y2="428.7" stroke="#000" stroke-width="0.7" stroke-linecap="butt" />
<text x="436.2" y="437.5" font-size="7.3" fill="#000" text-anchor="middle" font-weight="bold" font-family="'Liberation Serif', serif" stroke="#000" stroke-width="0.3">60</text>
<line x1="466.2" y1="425.5" x2="466.2" y2="427.3" stroke="#000" stroke-width="0.7" stroke-linecap="butt" />
<line x1="496.2" y1="425.5" x2="496.2" y2="428.7" stroke="#000" stroke-width="0.7" stroke-linecap="butt" />
<text x="496.2" y="437.5" font-size="7.3" fill="#000" text-anchor="middle" font-weight="bold" font-family="'Liberation Serif', serif" stroke="#000" stroke-width="0.3">120</text>
<line x1="526.2" y1="425.5" x2="526.2" y2="427.3" stroke="#000" stroke-width="0.7" stroke-linecap="butt" />
<line x1="556.2" y1="425.5" x2="556.2" y2="428.7" stroke="#000" stroke-width="0.7" stroke-linecap="butt" />
<text x="556.2" y="437.5" font-size="7.3" fill="#000" text-anchor="middle" font-weight="bold" font-family="'Liberation Serif', serif" stroke="#000" stroke-width="0.3">180</text>
<line x1="586.2" y1="425.5" x2="586.2" y2="427.3" stroke="#000" stroke-width="0.7" stroke-linecap="butt" />
<line x1="616.2" y1="425.5" x2="616.2" y2="428.7" stroke="#000" stroke-width="0.7" stroke-linecap="butt" />
<text x="616.2" y="437.5" font-size="7.3" fill="#000" text-anchor="middle" font-weight="bold" font-family="'Liberation Serif', serif" stroke="#000" stroke-width="0.3">240</text>
<line x1="646.2" y1="425.5" x2="646.2" y2="427.3" stroke="#000" stroke-width="0.7" stroke-linecap="butt" />
<line x1="676.2" y1="425.5" x2="676.2" y2="428.7" stroke="#000" stroke-width="0.7" stroke-linecap="butt" />
<text x="676.2" y="437.5" font-size="7.3" fill="#000" text-anchor="middle" font-weight="bold" font-family="'Liberation Serif', serif" stroke="#000" stroke-width="0.3">300</text>
<text x="528" y="452.5" font-size="10.8" fill="#000" text-anchor="middle" font-weight="bold" font-family="'Liberation Sans', sans-serif" >Z position (Å)</text>
<text transform="translate(356 368.95) rotate(-90)" font-size="10.8" font-weight="bold" text-anchor="middle" font-family="'Liberation Sans', sans-serif">Frequency (THz)</text>
<text x="348.2" y="312.9" font-size="19.5" fill="#000" text-anchor="start" font-weight="bold" font-family="'Liberation Sans', sans-serif" >e</text>
<rect x="32.5" y="465.15" width="300.3" height="112.2" fill="#000"/>
<rect x="32.5" y="465.45" width="135" height="92.4" fill="url(#g27)"/>
<rect x="165.9" y="555.3" width="2.6" height="2.55" fill="url(#g27)"/>
<rect x="167.5" y="555.3" width="30" height="21.9" fill="url(#g28)"/>
<rect x="195.9" y="555.3" width="2.6" height="21.9" fill="url(#g28)"/>
<rect x="197.5" y="547.75" width="135.3" height="29.6" fill="url(#g29)"/>
<line x1="156.8" y1="482.4" x2="169.6" y2="482.4" stroke="#f4f4f8" stroke-width="1.1" stroke-linecap="butt" />
<line x1="156.8" y1="558" x2="169.6" y2="558" stroke="#f4f4f8" stroke-width="1.1" stroke-linecap="butt" />
<line x1="163" y1="482.4" x2="163" y2="558" stroke="#f4f4f8" stroke-width="1.5" stroke-linecap="butt" stroke-dasharray="6.2 6.3" stroke-dashoffset="0"/>
<text x="81.9" y="493.7" font-size="9" fill="#e6eefc" text-anchor="start" font-weight="bold" font-family="'Liberation Sans', sans-serif" >Diamond</text>
<text x="109.9" y="521.6" font-size="9.1" fill="#e6eefc" text-anchor="start" font-weight="bold" font-family="'Liberation Sans', sans-serif" ><tspan stroke="#e6eefc" stroke-width="0.45">≈</tspan> 27.2 THz</text>
<text x="54.3" y="571" font-size="8.9" fill="#f4f4f8" text-anchor="start" font-weight="bold" font-family="'Liberation Sans', sans-serif" >TBR=17.4 m<tspan font-size="5.34" dy="-3.4">2</tspan><tspan dy="3.4">·K·GW</tspan></text>
<text x="175.2" y="554.8" font-size="8.8" fill="#f4f4f8" text-anchor="start" font-weight="bold" font-family="'Liberation Sans', sans-serif" >W</text>
<text x="258.6" y="567.5" font-size="8.8" fill="#e6eefc" text-anchor="start" font-weight="bold" font-family="'Liberation Sans', sans-serif" >Cu</text>
<rect x="161.4" y="537.6" width="51.1" height="39.4" rx="1.5" fill="none" stroke="#cc1c14" stroke-width="1.1" stroke-dasharray="4.5 3.5" opacity="1"/>
<rect x="223.8" y="469.6" width="17.5" height="40.3" fill="url(#g30)"/>
<rect x="239.7" y="507" width="2.6" height="2.9" fill="url(#g30)"/>
<rect x="241.3" y="507" width="38.9" height="33.6" fill="url(#g31)"/>
<rect x="278.6" y="507" width="2.6" height="33.6" fill="url(#g31)"/>
<rect x="280.2" y="492.9" width="33.4" height="47.7" fill="url(#g32)"/>
<line x1="237.8" y1="470.2" x2="237.8" y2="479.3" stroke="#8fe03c" stroke-width="2.6" stroke-linecap="butt" />
<line x1="237.8" y1="486.3" x2="237.8" y2="497.7" stroke="#86d23a" stroke-width="2.6" stroke-linecap="butt" />
<line x1="237.8" y1="503.8" x2="237.8" y2="516" stroke="#5c9a2c" stroke-width="2.6" stroke-linecap="butt" />
<polygon points="237.8,521.5 234.3,515.5 237.8,517.78 241.3,515.5" fill="#4a7e26"/>
<line x1="242.2" y1="521.3" x2="308.98" y2="521.3" stroke="#8fe03c" stroke-width="2.4" stroke-linecap="butt" />
<polygon points="313.1,521.3 305.6,518 308.45,521.3 305.6,524.6" fill="#8fe03c"/>
<text x="258.8" y="498.5" font-size="9.8" fill="#f4f4f8" text-anchor="start" font-weight="bold" font-family="'Liberation Sans', sans-serif" >W</text>
<text x="290" y="497.3" font-size="9.3" fill="#f4f4f8" text-anchor="start" font-weight="bold" font-family="'Liberation Sans', sans-serif" >Cu</text>
<rect x="220.6" y="469.1" width="96" height="72.9" rx="2.5" fill="none" stroke="#cc1c14" stroke-width="1.3" stroke-dasharray="4.6 3.9" opacity="1"/>
<path d="M32.5 465.15L32.5 577.35L332.8 577.35" stroke="#000" stroke-width="0.7" fill="none" />
<line x1="332.6" y1="465.45" x2="332.6" y2="577.35" stroke="#0a0f18" stroke-width="0.6" stroke-linecap="butt" />
<line x1="29.3" y1="577.35" x2="32.5" y2="577.35" stroke="#000" stroke-width="0.7" stroke-linecap="butt" />
<text x="26.4" y="579.3" font-size="7.1" fill="#000" text-anchor="end" font-weight="bold" font-family="'Liberation Sans', sans-serif" >0</text>
<line x1="30.7" y1="563.36" x2="32.5" y2="563.36" stroke="#000" stroke-width="0.7" stroke-linecap="butt" />
<line x1="29.3" y1="549.38" x2="32.5" y2="549.38" stroke="#000" stroke-width="0.7" stroke-linecap="butt" />
<text x="26.4" y="551.33" font-size="7.1" fill="#000" text-anchor="end" font-weight="bold" font-family="'Liberation Sans', sans-serif" >10</text>
<line x1="30.7" y1="535.39" x2="32.5" y2="535.39" stroke="#000" stroke-width="0.7" stroke-linecap="butt" />
<line x1="29.3" y1="521.4" x2="32.5" y2="521.4" stroke="#000" stroke-width="0.7" stroke-linecap="butt" />
<text x="26.4" y="523.35" font-size="7.1" fill="#000" text-anchor="end" font-weight="bold" font-family="'Liberation Sans', sans-serif" >20</text>
<line x1="30.7" y1="507.41" x2="32.5" y2="507.41" stroke="#000" stroke-width="0.7" stroke-linecap="butt" />
<line x1="29.3" y1="493.43" x2="32.5" y2="493.43" stroke="#000" stroke-width="0.7" stroke-linecap="butt" />
<text x="26.4" y="495.38" font-size="7.1" fill="#000" text-anchor="end" font-weight="bold" font-family="'Liberation Sans', sans-serif" >30</text>
<line x1="30.7" y1="479.44" x2="32.5" y2="479.44" stroke="#000" stroke-width="0.7" stroke-linecap="butt" />
<line x1="29.3" y1="465.45" x2="32.5" y2="465.45" stroke="#000" stroke-width="0.7" stroke-linecap="butt" />
<text x="26.4" y="467.4" font-size="7.1" fill="#000" text-anchor="end" font-weight="bold" font-family="'Liberation Sans', sans-serif" >40</text>
<line x1="32.5" y1="577.35" x2="32.5" y2="580.55" stroke="#000" stroke-width="0.7" stroke-linecap="butt" />
<text x="32.5" y="588.8" font-size="7.1" fill="#000" text-anchor="middle" font-weight="bold" font-family="'Liberation Sans', sans-serif" >0</text>
<line x1="62.5" y1="577.35" x2="62.5" y2="579.15" stroke="#000" stroke-width="0.7" stroke-linecap="butt" />
<line x1="92.5" y1="577.35" x2="92.5" y2="580.55" stroke="#000" stroke-width="0.7" stroke-linecap="butt" />
<text x="92.5" y="588.8" font-size="7.1" fill="#000" text-anchor="middle" font-weight="bold" font-family="'Liberation Sans', sans-serif" >60</text>
<line x1="122.5" y1="577.35" x2="122.5" y2="579.15" stroke="#000" stroke-width="0.7" stroke-linecap="butt" />
<line x1="152.5" y1="577.35" x2="152.5" y2="580.55" stroke="#000" stroke-width="0.7" stroke-linecap="butt" />
<text x="152.5" y="588.8" font-size="7.1" fill="#000" text-anchor="middle" font-weight="bold" font-family="'Liberation Sans', sans-serif" >120</text>
<line x1="182.5" y1="577.35" x2="182.5" y2="579.15" stroke="#000" stroke-width="0.7" stroke-linecap="butt" />
<line x1="212.5" y1="577.35" x2="212.5" y2="580.55" stroke="#000" stroke-width="0.7" stroke-linecap="butt" />
<text x="212.5" y="588.8" font-size="7.1" fill="#000" text-anchor="middle" font-weight="bold" font-family="'Liberation Sans', sans-serif" >180</text>
<line x1="242.5" y1="577.35" x2="242.5" y2="579.15" stroke="#000" stroke-width="0.7" stroke-linecap="butt" />
<line x1="272.5" y1="577.35" x2="272.5" y2="580.55" stroke="#000" stroke-width="0.7" stroke-linecap="butt" />
<text x="272.5" y="588.8" font-size="7.1" fill="#000" text-anchor="middle" font-weight="bold" font-family="'Liberation Sans', sans-serif" >240</text>
<line x1="302.5" y1="577.35" x2="302.5" y2="579.15" stroke="#000" stroke-width="0.7" stroke-linecap="butt" />
<line x1="332.5" y1="577.35" x2="332.5" y2="580.55" stroke="#000" stroke-width="0.7" stroke-linecap="butt" />
<text x="332.5" y="588.8" font-size="7.1" fill="#000" text-anchor="middle" font-weight="bold" font-family="'Liberation Sans', sans-serif" >300</text>
<text x="184.4" y="604.2" font-size="10.8" fill="#000" text-anchor="middle" font-weight="bold" font-family="'Liberation Sans', sans-serif" >Z position (Å)</text>
<text transform="translate(12 520.8) rotate(-90)" font-size="10.8" font-weight="bold" text-anchor="middle" font-family="'Liberation Sans', sans-serif">Frequency (THz)</text>
<text x="7.4" y="465.3" font-size="20" fill="#000" text-anchor="start" font-weight="bold" font-family="'Liberation Sans', sans-serif" >f</text>
<rect x="376.6" y="465.15" width="300.3" height="112.2" fill="#000"/>
<rect x="376.6" y="465.45" width="135" height="92.4" fill="url(#g33)"/>
<rect x="510" y="511.1" width="2.6" height="24.4" fill="url(#g33)"/>
<rect x="510" y="552.9" width="2.6" height="4.95" fill="url(#g33)"/>
<rect x="511.6" y="511.1" width="30" height="24.4" fill="url(#g34)"/>
<rect x="511.6" y="552.9" width="30" height="23.1" fill="url(#g35)"/>
<rect x="540" y="552.9" width="2.6" height="23.1" fill="url(#g35)"/>
<rect x="541.6" y="547.75" width="135.3" height="29.6" fill="url(#g36)"/>
<line x1="500.9" y1="482.4" x2="513.7" y2="482.4" stroke="#f4f4f8" stroke-width="1.1" stroke-linecap="butt" />
<line x1="500.9" y1="556.9" x2="513.7" y2="556.9" stroke="#f4f4f8" stroke-width="1.1" stroke-linecap="butt" />
<line x1="507.5" y1="482.4" x2="507.5" y2="556.9" stroke="#f4f4f8" stroke-width="1.5" stroke-linecap="butt" stroke-dasharray="6.2 6.3" stroke-dashoffset="0"/>
<text x="426.2" y="494.3" font-size="9" fill="#e6eefc" text-anchor="start" font-weight="bold" font-family="'Liberation Sans', sans-serif" >Diamond</text>
<text x="458.5" y="520.9" font-size="9.1" fill="#e6eefc" text-anchor="start" font-weight="bold" font-family="'Liberation Sans', sans-serif" ><tspan stroke="#e6eefc" stroke-width="0.45">≈</tspan> 26.7 THz</text>
<text x="398.3" y="571" font-size="8.9" fill="#f4f4f8" text-anchor="start" font-weight="bold" font-family="'Liberation Sans', sans-serif" >TBR=10.9 m<tspan font-size="5.34" dy="-3.4">2</tspan><tspan dy="3.4">·K·GW</tspan></text>
<text x="516.6" y="547.6" font-size="8.8" fill="#f4f4f8" text-anchor="start" font-weight="bold" font-family="'Liberation Sans', sans-serif" >WC</text>
<text x="607" y="567.5" font-size="8.8" fill="#e6eefc" text-anchor="start" font-weight="bold" font-family="'Liberation Sans', sans-serif" >Cu</text>
<rect x="501.1" y="506.6" width="67.5" height="69.8" rx="1.5" fill="none" stroke="#cc1c14" stroke-width="1.1" stroke-dasharray="4.5 3.5" opacity="1"/>
<rect x="580.6" y="465.8" width="17.4" height="58.5" fill="url(#g37)"/>
<rect x="596.4" y="470.2" width="2.6" height="29.2" fill="url(#g37)"/>
<rect x="596.4" y="519.4" width="2.6" height="4.9" fill="url(#g37)"/>
<rect x="598" y="470.2" width="26" height="29.2" fill="url(#g38)"/>
<rect x="598" y="519.4" width="26" height="25" fill="url(#g39)"/>
<rect x="622.4" y="519.4" width="2.6" height="25" fill="url(#g39)"/>
<rect x="624" y="512.9" width="41.5" height="32" fill="url(#g40)"/>
<line x1="591.1" y1="469.7" x2="591.1" y2="479.1" stroke="#8fe03c" stroke-width="2.6" stroke-linecap="butt" />
<line x1="591.1" y1="486.4" x2="591.1" y2="497" stroke="#8fe03c" stroke-width="2.6" stroke-linecap="butt" />
<line x1="591.1" y1="504.3" x2="591.1" y2="515" stroke="#8fe03c" stroke-width="2.6" stroke-linecap="butt" />
<polygon points="591.1,520.8 587.6,514.6 591.1,516.96 594.6,514.6" fill="#8fe03c"/>
<path d="M598.0 486.9H625.6" stroke="#8fe03c" stroke-width="2.5" fill="none" />
<path d="M598.0 528.2H625.6" stroke="#8fe03c" stroke-width="2.5" fill="none" />
<path d="M624.4 485.8V494.6" stroke="#8fe03c" stroke-width="2.4" fill="none" />
<path d="M624.4 506.8V511.6" stroke="#8fe03c" stroke-width="2.4" fill="none" />
<path d="M624.4 519.7V533.2H659" stroke="#8fe03c" stroke-width="2.4" fill="none" />
<polygon points="665.6,533.2 657.6,529.9 660.64,533.2 657.6,536.5" fill="#8fe03c"/>
<path d="M620.2 499L627.4 506.2M627.4 499L620.2 506.2" stroke="#d6d4f2" stroke-width="4.7" fill="none" />
<path d="M620.2 499L627.4 506.2M627.4 499L620.2 506.2" stroke="#ff1f1f" stroke-width="2.9" fill="none" />
<text x="605" y="474.3" font-size="9.2" fill="#f4f4f8" text-anchor="start" font-weight="bold" font-family="'Liberation Sans', sans-serif" >WC</text>
<text x="640.2" y="517.3" font-size="9.3" fill="#f4f4f8" text-anchor="start" font-weight="bold" font-family="'Liberation Sans', sans-serif" >Cu</text>
<path d="M577.6 465.2V548.2H669.4V465.2" stroke="#cc1c14" stroke-width="1.3" fill="none" stroke-dasharray="4.6 3.9" />
<path d="M577.6 465.0H669.4" stroke="#cc1c14" stroke-width="0.5" fill="none" stroke-dasharray="4.6 3.9" opacity="0.55"/>
<path d="M376.6 465.15L376.6 577.35L676.9 577.35" stroke="#000" stroke-width="0.7" fill="none" />
<line x1="676.7" y1="465.45" x2="676.7" y2="577.35" stroke="#0a0f18" stroke-width="0.6" stroke-linecap="butt" />
<line x1="373.4" y1="577.35" x2="376.6" y2="577.35" stroke="#000" stroke-width="0.7" stroke-linecap="butt" />
<text x="370.5" y="579.3" font-size="7.1" fill="#000" text-anchor="end" font-weight="bold" font-family="'Liberation Sans', sans-serif" >0</text>
<line x1="374.8" y1="563.36" x2="376.6" y2="563.36" stroke="#000" stroke-width="0.7" stroke-linecap="butt" />
<line x1="373.4" y1="549.38" x2="376.6" y2="549.38" stroke="#000" stroke-width="0.7" stroke-linecap="butt" />
<text x="370.5" y="551.33" font-size="7.1" fill="#000" text-anchor="end" font-weight="bold" font-family="'Liberation Sans', sans-serif" >10</text>
<line x1="374.8" y1="535.39" x2="376.6" y2="535.39" stroke="#000" stroke-width="0.7" stroke-linecap="butt" />
<line x1="373.4" y1="521.4" x2="376.6" y2="521.4" stroke="#000" stroke-width="0.7" stroke-linecap="butt" />
<text x="370.5" y="523.35" font-size="7.1" fill="#000" text-anchor="end" font-weight="bold" font-family="'Liberation Sans', sans-serif" >20</text>
<line x1="374.8" y1="507.41" x2="376.6" y2="507.41" stroke="#000" stroke-width="0.7" stroke-linecap="butt" />
<line x1="373.4" y1="493.43" x2="376.6" y2="493.43" stroke="#000" stroke-width="0.7" stroke-linecap="butt" />
<text x="370.5" y="495.38" font-size="7.1" fill="#000" text-anchor="end" font-weight="bold" font-family="'Liberation Sans', sans-serif" >30</text>
<line x1="374.8" y1="479.44" x2="376.6" y2="479.44" stroke="#000" stroke-width="0.7" stroke-linecap="butt" />
<line x1="373.4" y1="465.45" x2="376.6" y2="465.45" stroke="#000" stroke-width="0.7" stroke-linecap="butt" />
<text x="370.5" y="467.4" font-size="7.1" fill="#000" text-anchor="end" font-weight="bold" font-family="'Liberation Sans', sans-serif" >40</text>
<line x1="376.6" y1="577.35" x2="376.6" y2="580.55" stroke="#000" stroke-width="0.7" stroke-linecap="butt" />
<text x="376.6" y="588.8" font-size="7.1" fill="#000" text-anchor="middle" font-weight="bold" font-family="'Liberation Sans', sans-serif" >0</text>
<line x1="406.6" y1="577.35" x2="406.6" y2="579.15" stroke="#000" stroke-width="0.7" stroke-linecap="butt" />
<line x1="436.6" y1="577.35" x2="436.6" y2="580.55" stroke="#000" stroke-width="0.7" stroke-linecap="butt" />
<text x="436.6" y="588.8" font-size="7.1" fill="#000" text-anchor="middle" font-weight="bold" font-family="'Liberation Sans', sans-serif" >60</text>
<line x1="466.6" y1="577.35" x2="466.6" y2="579.15" stroke="#000" stroke-width="0.7" stroke-linecap="butt" />
<line x1="496.6" y1="577.35" x2="496.6" y2="580.55" stroke="#000" stroke-width="0.7" stroke-linecap="butt" />
<text x="496.6" y="588.8" font-size="7.1" fill="#000" text-anchor="middle" font-weight="bold" font-family="'Liberation Sans', sans-serif" >120</text>
<line x1="526.6" y1="577.35" x2="526.6" y2="579.15" stroke="#000" stroke-width="0.7" stroke-linecap="butt" />
<line x1="556.6" y1="577.35" x2="556.6" y2="580.55" stroke="#000" stroke-width="0.7" stroke-linecap="butt" />
<text x="556.6" y="588.8" font-size="7.1" fill="#000" text-anchor="middle" font-weight="bold" font-family="'Liberation Sans', sans-serif" >180</text>
<line x1="586.6" y1="577.35" x2="586.6" y2="579.15" stroke="#000" stroke-width="0.7" stroke-linecap="butt" />
<line x1="616.6" y1="577.35" x2="616.6" y2="580.55" stroke="#000" stroke-width="0.7" stroke-linecap="butt" />
<text x="616.6" y="588.8" font-size="7.1" fill="#000" text-anchor="middle" font-weight="bold" font-family="'Liberation Sans', sans-serif" >240</text>
<line x1="646.6" y1="577.35" x2="646.6" y2="579.15" stroke="#000" stroke-width="0.7" stroke-linecap="butt" />
<line x1="676.6" y1="577.35" x2="676.6" y2="580.55" stroke="#000" stroke-width="0.7" stroke-linecap="butt" />
<text x="676.6" y="588.8" font-size="7.1" fill="#000" text-anchor="middle" font-weight="bold" font-family="'Liberation Sans', sans-serif" >300</text>
<text x="528.2" y="604.5" font-size="10.8" fill="#000" text-anchor="middle" font-weight="bold" font-family="'Liberation Sans', sans-serif" >Z position (Å)</text>
<text transform="translate(356 520.8) rotate(-90)" font-size="10.8" font-weight="bold" text-anchor="middle" font-family="'Liberation Sans', sans-serif">Frequency (THz)</text>
<text x="347.6" y="464.8" font-size="19.5" fill="#000" text-anchor="start" font-weight="bold" font-family="'Liberation Sans', sans-serif" >g</text>
</svg>
</body></html>
